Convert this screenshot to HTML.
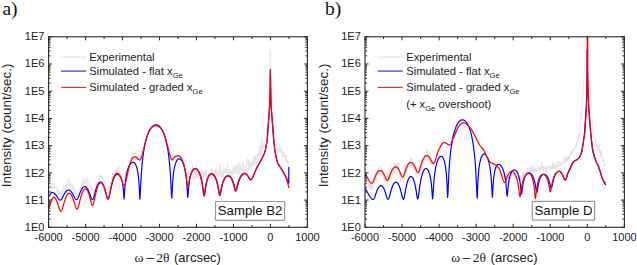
<!DOCTYPE html>
<html><head><meta charset="utf-8"><title>XRD</title>
<style>html,body{margin:0;padding:0;background:#fff;}svg{display:block;}</style>
</head><body>
<svg width="637" height="265" viewBox="0 0 637 265">
<defs><clipPath id="ca"><rect x="48.60" y="36.30" width="258.80" height="191.00"/></clipPath><clipPath id="cb"><rect x="365.00" y="36.30" width="259.40" height="191.00"/></clipPath></defs>
<rect width="637" height="265" fill="#fff"/>
<g clip-path="url(#ca)" fill="none" stroke-linejoin="round" stroke-linecap="round">
<path d="M48.60 193.93L48.83 193.96L49.05 189.91L49.27 191.35L49.50 191.35L49.73 190.99L49.95 190.52L50.18 190.14L50.40 190.44L50.62 191.69L50.85 185.98L51.08 188.23L51.30 188.55L51.52 188.79L51.75 187.28L51.98 188.17L52.20 182.71L52.42 188.04L52.65 186.94L52.88 186.64L53.10 188.23L53.33 188.08L53.55 188.51L53.77 186.41L54.00 186.34L54.23 188.90L54.45 182.82L54.68 187.05L54.90 186.41L55.13 187.80L55.35 186.80L55.58 186.34L55.81 188.14L56.03 186.24L56.26 188.70L56.48 188.60L56.71 187.55L56.94 188.27L57.16 191.97L57.39 189.45L57.61 190.28L57.84 192.22L58.06 189.64L58.29 191.45L58.52 194.13L58.74 191.96L58.97 192.05L59.19 189.82L59.42 192.39L59.65 193.36L59.87 193.94L60.10 195.29L60.32 192.71L60.55 195.43L60.77 193.63L61.00 194.09L61.22 191.40L61.44 192.38L61.67 194.22L61.89 192.52L62.11 189.81L62.33 193.20L62.56 194.37L62.78 191.76L63.00 191.13L63.22 191.47L63.44 189.94L63.67 188.49L63.89 185.29L64.11 190.36L64.33 189.97L64.56 189.44L64.78 190.02L65.00 190.05L65.22 186.92L65.44 185.65L65.67 187.49L65.89 184.87L66.11 184.70L66.33 187.13L66.56 186.80L66.78 185.81L67.00 184.07L67.22 187.65L67.44 184.61L67.67 178.80L67.89 187.04L68.11 184.87L68.33 185.55L68.56 186.71L68.78 182.55L69.00 183.92L69.22 183.28L69.44 179.13L69.67 183.61L69.89 185.89L70.11 184.54L70.33 184.27L70.56 187.21L70.78 184.57L71.00 183.68L71.22 182.67L71.44 187.15L71.67 184.19L71.89 184.25L72.11 188.73L72.33 187.24L72.56 189.47L72.78 186.44L73.00 188.74L73.22 185.16L73.44 186.24L73.67 186.52L73.89 189.08L74.11 190.38L74.33 187.37L74.56 190.78L74.78 189.43L75.00 192.25L75.22 192.14L75.44 193.36L75.67 191.41L75.89 192.52L76.11 190.56L76.33 193.10L76.56 192.62L76.78 192.32L77.00 193.35L77.22 192.94L77.44 192.17L77.67 195.94L77.89 191.88L78.11 191.53L78.33 190.45L78.56 192.75L78.78 190.95L79.00 190.42L79.22 190.65L79.44 190.37L79.67 189.00L79.89 190.47L80.11 187.84L80.33 187.44L80.56 188.88L80.78 187.55L81.00 186.58L81.22 184.24L81.44 183.25L81.67 184.08L81.89 185.36L82.11 184.70L82.33 182.52L82.56 181.18L82.78 179.43L83.00 182.30L83.22 182.88L83.44 181.13L83.67 184.16L83.89 182.41L84.11 178.37L84.33 182.35L84.56 183.37L84.78 180.71L85.00 181.65L85.22 180.16L85.44 184.11L85.67 182.40L85.89 181.48L86.11 183.74L86.33 179.91L86.56 182.36L86.78 183.31L87.00 177.14L87.22 181.35L87.44 180.84L87.67 182.36L87.89 182.17L88.11 180.98L88.33 179.70L88.56 185.31L88.78 185.56L89.00 185.97L89.22 183.90L89.44 184.13L89.67 184.28L89.89 186.88L90.11 187.21L90.33 186.68L90.56 188.45L90.78 190.16L91.00 190.07L91.22 187.09L91.44 186.69L91.67 189.84L91.89 191.30L92.11 189.70L92.33 189.14L92.56 192.57L92.78 192.95L93.00 188.49L93.22 191.47L93.44 191.88L93.67 190.71L93.89 189.95L94.11 189.10L94.33 191.26L94.56 193.47L94.78 190.00L95.00 188.07L95.22 191.21L95.44 187.84L95.67 183.97L95.89 183.04L96.11 186.82L96.33 185.61L96.56 183.00L96.78 186.25L97.00 182.43L97.22 182.23L97.44 182.75L97.67 181.84L97.89 181.24L98.11 183.01L98.33 180.78L98.56 180.44L98.78 180.94L99.00 178.45L99.22 178.55L99.44 180.32L99.67 174.87L99.89 180.03L100.11 176.26L100.33 178.01L100.56 175.03L100.78 174.29L101.00 176.91L101.23 179.18L101.45 179.43L101.68 176.79L101.90 175.50L102.13 177.34L102.35 179.19L102.58 178.37L102.81 177.81L103.03 179.80L103.26 180.30L103.48 182.69L103.71 179.17L103.94 178.83L104.16 182.81L104.39 183.97L104.61 183.18L104.84 179.82L105.06 184.22L105.29 182.64L105.52 187.40L105.74 188.34L105.97 185.44L106.19 186.12L106.42 186.35L106.65 187.05L106.87 187.40L107.10 190.77L107.32 187.50L107.55 189.14L107.77 190.91L108.00 189.17L108.22 189.71L108.45 189.36L108.67 189.66L108.89 187.99L109.12 186.45L109.34 190.48L109.57 186.98L109.79 186.30L110.01 185.79L110.24 185.61L110.46 185.50L110.68 182.89L110.91 184.61L111.13 181.09L111.36 179.66L111.58 179.92L111.80 179.24L112.03 179.85L112.25 175.38L112.47 179.81L112.70 172.03L112.92 175.09L113.14 174.43L113.37 174.89L113.59 173.10L113.82 175.07L114.04 172.65L114.26 171.51L114.49 171.25L114.71 173.10L114.93 173.01L115.16 171.03L115.38 173.00L115.61 171.58L115.83 169.10L116.05 172.00L116.28 170.71L116.50 172.28L116.72 170.52L116.94 169.03L117.16 165.68L117.38 171.52L117.60 171.28L117.82 171.14L118.04 171.77L118.26 170.16L118.49 170.85L118.71 168.93L118.93 166.28L119.15 173.19L119.37 171.73L119.59 174.50L119.81 172.88L120.03 174.06L120.25 177.28L120.47 176.43L120.69 176.08L120.91 176.15L121.13 173.85L121.35 176.50L121.57 174.53L121.79 178.05L122.01 176.32L122.24 177.42L122.46 180.83L122.68 179.88L122.90 180.72L123.12 179.27L123.34 182.36L123.56 182.16L123.78 181.49L124.00 182.15L124.22 179.88L124.44 180.72L124.67 178.20L124.89 181.13L125.11 179.76L125.33 175.77L125.56 178.47L125.78 172.19L126.00 180.74L126.22 177.89L126.44 177.16L126.67 173.16L126.89 173.09L127.11 171.71L127.33 174.25L127.56 172.47L127.78 168.18L128.00 168.87L128.22 169.46L128.44 166.64L128.67 169.35L128.89 167.96L129.11 166.69L129.33 163.96L129.56 160.89L129.78 165.14L130.00 160.40L130.22 157.59L130.44 162.00L130.67 162.66L130.89 160.12L131.11 158.37L131.33 159.57L131.56 155.90L131.78 157.25L132.00 151.79L132.22 157.64L132.44 159.05L132.67 154.03L132.89 158.60L133.11 153.83L133.33 153.26L133.56 154.80L133.78 154.30L134.00 152.62L134.22 154.07L134.45 153.87L134.67 154.25L134.89 155.05L135.12 152.34L135.34 154.25L135.56 152.46L135.78 155.36L136.01 156.94L136.23 156.95L136.45 156.93L136.68 156.90L136.90 155.61L137.12 159.69L137.35 156.95L137.57 156.26L137.79 159.74L138.02 155.44L138.24 154.51L138.46 157.13L138.68 160.33L138.91 153.45L139.13 158.38L139.35 155.91L139.58 155.95L139.80 160.27L140.04 161.26L140.27 159.00L140.51 155.47L140.75 159.91L140.98 159.23L141.22 156.58L141.45 156.07L141.69 155.70L141.93 155.59L142.16 153.98L142.40 153.91L142.64 153.52L142.87 151.69L143.11 151.34L143.35 151.14L143.58 149.66L143.82 148.09L144.05 148.06L144.29 147.19L144.53 145.24L144.76 144.18L145.00 143.92L145.23 142.70L145.45 141.65L145.68 141.26L145.91 140.52L146.14 139.94L146.36 138.59L146.59 138.11L146.82 137.74L147.05 136.18L147.27 136.17L147.50 134.50L147.74 134.29L147.97 133.72L148.21 133.26L148.45 132.96L148.68 131.97L148.92 131.83L149.15 131.16L149.39 130.17L149.63 129.94L149.86 129.92L150.10 129.53L150.32 129.21L150.54 128.95L150.76 128.70L150.98 127.73L151.20 128.33L151.42 128.01L151.64 126.17L151.86 126.87L152.08 127.40L152.30 126.94L152.52 127.58L152.74 126.10L152.96 126.85L153.18 126.17L153.40 125.20L153.62 126.44L153.84 126.74L154.06 125.58L154.28 125.38L154.50 125.96L154.72 125.64L154.94 126.13L155.16 125.76L155.38 125.97L155.60 125.20L155.82 125.52L156.04 125.53L156.26 126.09L156.48 125.44L156.70 125.96L156.92 126.02L157.14 126.38L157.36 126.13L157.58 126.05L157.80 126.29L158.02 125.56L158.24 126.17L158.46 126.50L158.68 126.80L158.90 126.81L159.12 126.67L159.34 126.72L159.56 127.00L159.78 127.04L160.00 127.34L160.22 127.54L160.44 128.10L160.66 128.02L160.88 128.53L161.10 128.54L161.33 128.48L161.55 128.62L161.78 129.61L162.01 129.60L162.23 130.35L162.46 130.81L162.69 131.05L162.91 131.95L163.14 131.67L163.37 133.16L163.59 132.67L163.82 133.13L164.05 133.77L164.27 134.97L164.50 134.96L164.73 135.77L164.95 135.72L165.18 137.01L165.41 138.11L165.64 139.13L165.86 139.57L166.09 140.81L166.32 141.51L166.55 142.29L166.77 142.41L167.00 143.64L167.24 144.95L167.47 145.68L167.71 146.74L167.95 147.51L168.18 148.91L168.42 149.09L168.65 150.86L168.89 151.98L169.13 152.69L169.36 153.50L169.60 153.25L169.84 154.35L170.07 155.29L170.31 155.97L170.55 156.40L170.78 157.69L171.02 158.45L171.25 158.00L171.49 159.29L171.73 159.25L171.96 159.49L172.20 159.89L172.42 160.31L172.64 159.70L172.87 159.92L173.09 160.39L173.31 159.64L173.53 159.78L173.76 159.26L173.98 159.91L174.20 159.12L174.42 158.97L174.64 158.63L174.87 159.10L175.09 157.41L175.31 157.86L175.53 158.11L175.76 158.07L175.98 156.44L176.20 156.48L176.42 157.17L176.64 156.23L176.87 157.16L177.09 156.49L177.31 156.10L177.53 156.41L177.76 156.38L177.98 156.52L178.20 156.71L178.43 155.96L178.66 155.91L178.89 156.40L179.11 156.21L179.34 156.16L179.57 157.36L179.80 156.38L180.03 156.92L180.26 157.15L180.49 157.77L180.71 158.13L180.94 158.81L181.17 158.56L181.40 159.29L181.63 158.88L181.86 159.68L182.09 160.24L182.31 161.31L182.54 161.15L182.77 161.60L183.00 161.99L183.23 163.20L183.45 163.93L183.68 164.29L183.91 165.21L184.14 167.25L184.36 167.62L184.59 168.26L184.82 169.81L185.05 169.60L185.27 173.36L185.50 171.05L185.73 173.08L185.95 174.03L186.18 178.00L186.41 169.21L186.64 172.04L186.86 174.06L187.09 172.21L187.32 173.48L187.55 176.55L187.77 176.29L188.00 176.45L188.22 173.37L188.44 174.69L188.66 172.22L188.88 173.63L189.10 174.48L189.32 168.04L189.54 172.38L189.76 177.97L189.98 174.36L190.20 175.14L190.42 174.56L190.64 179.17L190.86 176.44L191.08 173.90L191.31 174.40L191.53 175.27L191.75 173.43L191.97 176.03L192.19 172.29L192.41 165.77L192.63 173.67L192.85 179.94L193.07 179.66L193.29 178.68L193.51 176.42L193.73 178.60L193.95 174.35L194.17 170.97L194.39 178.37L194.61 175.47L194.83 176.94L195.05 179.83L195.27 174.06L195.49 174.27L195.71 178.31L195.93 174.15L196.15 175.92L196.37 165.97L196.59 177.87L196.81 174.29L197.03 177.01L197.25 172.67L197.47 174.02L197.69 177.74L197.92 178.92L198.14 174.61L198.36 173.84L198.58 175.30L198.80 172.69L199.02 175.00L199.24 176.34L199.46 174.12L199.68 175.34L199.90 176.26L200.12 176.84L200.34 173.26L200.56 177.55L200.78 172.36L201.00 169.53L201.22 176.61L201.45 172.78L201.68 175.89L201.90 177.54L202.12 178.29L202.35 178.51L202.57 172.05L202.80 180.07L203.03 169.85L203.25 181.04L203.47 175.96L203.70 171.93L203.93 174.27L204.15 172.08L204.38 171.65L204.60 175.48L204.82 175.19L205.05 176.62L205.28 176.51L205.50 170.53L205.72 175.08L205.95 168.89L206.18 174.86L206.40 174.63L206.62 182.11L206.85 174.51L207.07 174.55L207.30 175.11L207.53 176.29L207.75 175.05L207.97 176.96L208.20 174.99L208.43 172.94L208.65 175.57L208.88 174.18L209.10 175.96L209.32 173.99L209.55 175.03L209.78 174.39L210.00 175.57L210.22 174.49L210.44 176.87L210.66 172.98L210.88 175.95L211.10 175.81L211.32 167.10L211.54 176.57L211.76 178.90L211.99 173.89L212.21 178.23L212.43 175.22L212.65 172.33L212.87 169.66L213.09 175.27L213.31 176.79L213.53 171.74L213.75 177.05L213.97 173.78L214.19 172.63L214.41 170.91L214.63 174.68L214.85 171.29L215.07 169.04L215.29 173.97L215.51 175.36L215.74 176.63L215.96 168.43L216.18 171.54L216.40 173.48L216.62 169.85L216.84 172.04L217.06 176.29L217.28 170.95L217.50 175.54L217.72 170.96L217.94 173.65L218.16 173.77L218.38 174.55L218.60 177.01L218.82 172.97L219.04 170.72L219.26 172.60L219.49 165.70L219.71 169.61L219.93 171.83L220.15 175.24L220.37 165.66L220.59 177.71L220.81 173.69L221.03 177.36L221.25 172.99L221.47 173.35L221.69 172.25L221.91 171.58L222.13 172.65L222.35 170.88L222.57 169.59L222.79 176.96L223.01 172.27L223.24 173.71L223.46 176.17L223.68 177.81L223.90 166.95L224.12 172.38L224.34 171.75L224.56 168.38L224.78 171.58L225.00 170.56L225.22 171.17L225.44 173.15L225.66 168.41L225.88 167.88L226.10 173.05L226.32 175.08L226.54 172.87L226.76 175.47L226.99 174.80L227.21 176.63L227.43 163.06L227.65 167.97L227.87 171.97L228.09 173.04L228.31 172.69L228.53 171.68L228.75 175.71L228.97 173.83L229.19 177.72L229.41 170.18L229.63 169.48L229.85 169.51L230.07 168.87L230.29 173.19L230.51 171.50L230.74 175.09L230.96 171.88L231.18 170.06L231.40 174.83L231.62 171.23L231.84 170.72L232.06 176.58L232.28 176.01L232.50 171.23L232.72 173.55L232.94 173.51L233.16 171.91L233.38 166.38L233.60 172.90L233.82 173.03L234.04 169.35L234.26 173.79L234.49 166.50L234.71 171.86L234.93 171.70L235.15 165.24L235.37 169.74L235.59 168.88L235.81 172.88L236.03 170.25L236.25 170.75L236.47 165.79L236.69 168.39L236.91 166.95L237.13 165.58L237.35 170.68L237.57 174.00L237.79 169.20L238.01 172.69L238.24 174.41L238.46 163.91L238.68 162.56L238.90 168.23L239.12 165.67L239.34 174.96L239.56 172.49L239.78 166.04L240.00 168.78L240.22 166.52L240.44 164.27L240.67 164.86L240.89 170.54L241.11 167.23L241.33 174.95L241.56 167.76L241.78 170.53L242.00 170.69L242.22 169.04L242.44 170.87L242.67 163.11L242.89 167.10L243.11 170.77L243.33 165.83L243.56 162.85L243.78 170.32L244.00 169.23L244.22 169.28L244.44 170.20L244.67 168.52L244.89 168.42L245.11 166.76L245.33 165.61L245.56 170.23L245.78 167.77L246.00 167.13L246.22 167.90L246.44 167.16L246.67 167.50L246.89 167.49L247.11 158.60L247.33 162.91L247.56 163.74L247.78 162.05L248.00 159.83L248.22 161.73L248.44 164.02L248.67 170.35L248.89 159.31L249.11 166.04L249.33 168.05L249.56 166.11L249.78 162.79L250.00 167.97L250.23 161.82L250.45 162.23L250.68 162.00L250.91 166.24L251.14 161.89L251.36 165.67L251.59 163.92L251.82 167.72L252.05 166.29L252.27 163.80L252.50 166.84L252.73 160.28L252.95 165.62L253.18 162.36L253.41 157.21L253.64 164.56L253.86 157.64L254.09 162.56L254.32 164.51L254.55 162.83L254.77 155.66L255.00 161.75L255.23 161.32L255.45 155.36L255.68 159.87L255.91 158.32L256.14 166.93L256.36 157.78L256.59 160.49L256.82 157.77L257.05 155.97L257.27 155.84L257.50 153.88L257.73 157.63L257.95 159.83L258.18 155.21L258.41 156.04L258.64 151.23L258.86 152.86L259.09 151.41L259.32 155.69L259.55 145.29L259.77 155.98L260.00 154.98L260.23 144.68L260.47 154.33L260.70 149.88L260.93 152.73L261.17 153.14L261.40 154.20L261.63 138.85L261.87 148.56L262.10 150.82L262.33 145.59L262.57 144.52L262.80 148.83L263.03 148.53L263.27 148.64L263.50 145.88L263.73 143.25L263.96 147.08L264.19 143.94L264.42 143.45L264.65 142.66L264.88 142.13L265.12 141.21L265.35 140.21L265.58 139.20L265.81 137.91L266.04 136.25L266.27 134.88L266.50 132.81L266.73 130.54L266.96 128.69L267.19 126.38L267.42 122.59L267.65 120.13L267.88 116.55L268.11 112.83L268.34 109.14L268.57 104.76L268.80 100.20L269.07 92.18L269.35 80.74L269.62 70.27L269.90 59.90L270.15 52.67L270.40 49.34L270.65 53.17L270.90 60.21L271.15 66.55L271.40 73.58L271.65 81.37L271.90 87.88L272.15 94.46L272.40 100.11L272.64 104.76L272.88 109.40L273.12 114.63L273.36 119.10L273.60 123.13L273.84 126.31L274.08 130.39L274.32 133.91L274.56 136.93L274.80 137.88L275.02 139.42L275.24 139.71L275.46 141.56L275.68 142.52L275.90 143.20L276.12 143.81L276.34 144.87L276.57 145.61L276.79 146.10L277.01 146.14L277.23 148.03L277.45 148.70L277.67 147.36L277.89 148.60L278.11 150.54L278.33 146.76L278.55 146.90L278.77 149.19L278.99 150.28L279.21 143.13L279.43 152.00L279.66 151.70L279.88 148.62L280.10 148.22L280.32 148.91L280.54 153.38L280.76 147.43L280.98 147.03L281.20 149.60L281.42 148.35L281.65 152.91L281.87 153.01L282.09 150.52L282.32 155.78L282.54 156.93L282.76 149.51L282.98 154.22L283.21 153.36L283.43 156.46L283.65 154.93L283.88 156.60L284.10 157.01L284.32 151.97L284.55 157.44L284.77 155.85L284.99 155.13L285.22 156.35L285.44 154.81L285.66 155.63L285.88 161.43L286.11 155.51L286.33 158.05L286.55 154.69L286.78 157.09L287.00 162.84L287.23 162.49L287.45 160.85L287.68 164.42L287.90 162.08L288.12 163.19L288.35 161.84L288.57 162.30L288.80 161.92" stroke="#e2e2e2" stroke-width="0.7"/>
<path d="M48.60 196.80L48.86 196.44L49.12 196.03L49.38 195.60L49.65 195.16L49.91 194.71L50.17 194.26L50.43 193.84L50.69 193.45L50.95 193.10L51.22 192.81L51.48 192.59L51.74 192.45L52.00 192.40L52.25 192.41L52.50 192.44L52.75 192.50L53.01 192.58L53.26 192.68L53.51 192.80L53.76 192.94L54.01 193.11L54.26 193.30L54.52 193.50L54.77 193.73L55.02 193.98L55.27 194.25L55.52 194.54L55.77 194.85L56.02 195.17L56.28 195.51L56.53 195.87L56.78 196.23L57.03 196.61L57.28 196.98L57.53 197.37L57.78 197.74L58.04 198.12L58.29 198.47L58.54 198.81L58.79 199.12L59.04 199.40L59.29 199.64L59.55 199.84L59.80 199.98L60.05 200.07L60.30 200.10L60.56 200.06L60.81 199.94L61.07 199.74L61.32 199.47L61.58 199.13L61.84 198.75L62.09 198.32L62.35 197.85L62.61 197.36L62.86 196.86L63.12 196.34L63.38 195.83L63.63 195.32L63.89 194.81L64.14 194.33L64.40 193.86L64.66 193.41L64.91 192.98L65.17 192.58L65.42 192.21L65.68 191.86L65.94 191.54L66.19 191.25L66.45 190.99L66.71 190.76L66.96 190.56L67.22 190.39L67.47 190.25L67.73 190.14L67.99 190.06L68.24 190.02L68.50 190.00L68.75 190.01L69.00 190.06L69.25 190.13L69.50 190.22L69.75 190.35L70.00 190.51L70.25 190.69L70.50 190.90L70.75 191.14L71.00 191.40L71.25 191.69L71.50 192.01L71.75 192.36L72.00 192.73L72.25 193.12L72.50 193.54L72.75 193.98L73.00 194.44L73.25 194.91L73.50 195.40L73.75 195.89L74.00 196.39L74.25 196.88L74.50 197.36L74.75 197.81L75.00 198.24L75.25 198.62L75.50 198.96L75.75 199.23L76.00 199.43L76.25 199.56L76.50 199.60L76.75 199.55L77.00 199.39L77.25 199.13L77.51 198.78L77.76 198.34L78.01 197.84L78.26 197.29L78.51 196.69L78.76 196.06L79.02 195.42L79.27 194.77L79.52 194.11L79.77 193.46L80.02 192.83L80.27 192.22L80.52 191.62L80.78 191.05L81.03 190.52L81.28 190.01L81.53 189.53L81.78 189.08L82.03 188.67L82.28 188.30L82.54 187.96L82.79 187.65L83.04 187.38L83.29 187.15L83.54 186.95L83.79 186.79L84.05 186.66L84.30 186.57L84.55 186.52L84.80 186.50L85.05 186.52L85.31 186.58L85.56 186.68L85.81 186.81L86.07 186.99L86.32 187.21L86.57 187.46L86.83 187.76L87.08 188.10L87.33 188.47L87.59 188.89L87.84 189.35L88.09 189.84L88.35 190.38L88.60 190.96L88.85 191.57L89.11 192.21L89.36 192.89L89.61 193.59L89.87 194.31L90.12 195.04L90.37 195.77L90.63 196.49L90.88 197.18L91.13 197.81L91.39 198.38L91.64 198.85L91.89 199.20L92.15 199.42L92.40 199.50L92.65 199.41L92.90 199.15L93.15 198.73L93.40 198.16L93.65 197.48L93.90 196.70L94.15 195.86L94.40 194.97L94.65 194.05L94.90 193.13L95.15 192.21L95.40 191.30L95.65 190.42L95.90 189.58L96.15 188.77L96.40 188.00L96.65 187.27L96.90 186.59L97.15 185.95L97.40 185.37L97.65 184.82L97.90 184.33L98.15 183.89L98.40 183.49L98.65 183.14L98.90 182.84L99.15 182.58L99.40 182.37L99.65 182.21L99.90 182.09L100.15 182.02L100.40 182.00L100.65 182.02L100.90 182.09L101.15 182.20L101.40 182.35L101.65 182.54L101.90 182.79L102.15 183.07L102.40 183.41L102.65 183.79L102.90 184.22L103.15 184.69L103.40 185.22L103.65 185.80L103.90 186.43L104.15 187.11L104.40 187.85L104.65 188.64L104.90 189.48L105.15 190.37L105.40 191.31L105.65 192.28L105.90 193.28L106.15 194.29L106.40 195.30L106.65 196.26L106.90 197.14L107.15 197.90L107.40 198.50L107.65 198.87L107.90 199.00L108.15 198.88L108.41 198.51L108.66 197.93L108.92 197.16L109.17 196.24L109.42 195.20L109.68 194.08L109.93 192.91L110.19 191.72L110.44 190.53L110.69 189.35L110.95 188.20L111.20 187.08L111.46 186.00L111.71 184.97L111.96 183.98L112.22 183.04L112.47 182.15L112.73 181.32L112.98 180.53L113.24 179.80L113.49 179.11L113.74 178.48L114.00 177.89L114.25 177.35L114.51 176.85L114.76 176.40L115.01 176.00L115.27 175.64L115.52 175.32L115.78 175.05L116.03 174.82L116.28 174.63L116.54 174.49L116.79 174.38L117.05 174.32L117.30 174.30L117.55 174.32L117.80 174.36L118.06 174.44L118.31 174.54L118.56 174.68L118.81 174.85L119.06 175.06L119.31 175.30L119.57 175.57L119.82 175.89L120.07 176.25L120.32 176.66L120.57 177.12L120.83 177.63L121.08 178.21L121.33 178.86L121.58 179.59L121.83 180.42L122.09 181.36L122.34 182.45L122.59 183.72L122.84 185.23L123.09 187.06L123.34 189.35L123.60 192.33L123.85 196.17L124.10 198.90L124.36 196.32L124.61 191.85L124.87 187.90L125.12 184.69L125.38 182.06L125.63 179.85L125.89 177.96L126.14 176.32L126.40 174.87L126.66 173.59L126.91 172.44L127.17 171.40L127.42 170.46L127.68 169.61L127.93 168.83L128.19 168.12L128.44 167.46L128.70 166.86L128.96 166.32L129.21 165.81L129.47 165.35L129.72 164.93L129.98 164.55L130.23 164.20L130.49 163.88L130.74 163.60L131.00 163.34L131.26 163.12L131.51 162.93L131.77 162.76L132.02 162.62L132.28 162.50L132.53 162.41L132.79 162.35L133.04 162.31L133.30 162.30L133.55 162.32L133.80 162.40L134.05 162.52L134.30 162.69L134.55 162.91L134.80 163.19L135.05 163.52L135.30 163.90L135.55 164.35L135.80 164.87L136.05 165.45L136.30 166.12L136.55 166.86L136.80 167.71L137.05 168.66L137.30 169.74L137.55 170.96L137.80 172.36L138.05 173.97L138.30 175.85L138.55 178.09L138.80 180.82L139.05 184.26L139.30 188.75L139.55 194.61L139.80 198.90L140.05 197.02L140.31 192.58L140.56 187.42L140.81 182.48L141.07 178.02L141.32 174.04L141.57 170.51L141.83 167.35L142.08 164.50L142.33 161.92L142.58 159.57L142.84 157.41L143.09 155.42L143.34 153.57L143.60 151.86L143.85 150.26L144.10 148.76L144.36 147.35L144.61 146.03L144.86 144.79L145.12 143.61L145.37 142.50L145.62 141.44L145.88 140.45L146.13 139.50L146.38 138.60L146.63 137.74L146.89 136.93L147.14 136.15L147.39 135.41L147.65 134.71L147.90 134.04L148.15 133.40L148.41 132.80L148.66 132.22L148.91 131.67L149.17 131.15L149.42 130.65L149.67 130.18L149.93 129.73L150.18 129.30L150.43 128.90L150.68 128.52L150.94 128.15L151.19 127.82L151.44 127.50L151.70 127.20L151.95 126.91L152.20 126.65L152.46 126.41L152.71 126.18L152.96 125.98L153.22 125.79L153.47 125.61L153.72 125.46L153.97 125.32L154.23 125.20L154.48 125.09L154.73 125.00L154.99 124.93L155.24 124.87L155.49 124.83L155.75 124.81L156.00 124.80L156.25 124.81L156.50 124.83L156.75 124.87L157.00 124.93L157.25 125.01L157.50 125.10L157.76 125.20L158.01 125.33L158.26 125.47L158.51 125.63L158.76 125.81L159.01 126.00L159.26 126.21L159.51 126.44L159.76 126.69L160.01 126.96L160.26 127.25L160.51 127.55L160.77 127.88L161.02 128.23L161.27 128.60L161.52 128.99L161.77 129.40L162.02 129.84L162.27 130.30L162.52 130.79L162.77 131.30L163.02 131.83L163.27 132.40L163.52 132.99L163.77 133.62L164.03 134.27L164.28 134.96L164.53 135.69L164.78 136.45L165.03 137.25L165.28 138.09L165.53 138.98L165.78 139.91L166.03 140.90L166.28 141.94L166.53 143.03L166.78 144.19L167.03 145.42L167.29 146.73L167.54 148.12L167.79 149.60L168.04 151.18L168.29 152.87L168.54 154.70L168.79 156.67L169.04 158.81L169.29 161.14L169.54 163.69L169.79 166.51L170.04 169.65L170.30 173.16L170.55 177.11L170.80 181.56L171.05 186.51L171.30 191.69L171.55 196.18L171.80 198.10L172.05 194.20L172.30 188.40L172.56 183.76L172.81 180.15L173.06 177.25L173.31 174.85L173.56 172.83L173.81 171.08L174.07 169.56L174.32 168.22L174.57 167.04L174.82 165.98L175.07 165.03L175.32 164.18L175.58 163.42L175.83 162.73L176.08 162.12L176.33 161.57L176.58 161.08L176.83 160.65L177.09 160.27L177.34 159.94L177.59 159.66L177.84 159.42L178.09 159.23L178.34 159.09L178.60 158.98L178.85 158.92L179.10 158.90L179.36 158.92L179.61 158.96L179.87 159.04L180.12 159.16L180.38 159.30L180.64 159.48L180.89 159.70L181.15 159.94L181.40 160.23L181.66 160.55L181.91 160.92L182.17 161.32L182.43 161.77L182.68 162.27L182.94 162.81L183.19 163.41L183.45 164.07L183.71 164.78L183.96 165.57L184.22 166.44L184.47 167.38L184.73 168.43L184.99 169.59L185.24 170.87L185.50 172.30L185.75 173.91L186.01 175.74L186.26 177.85L186.52 180.29L186.78 183.18L187.03 186.65L187.29 190.76L187.54 195.11L187.80 197.40L188.05 195.29L188.30 191.59L188.55 188.29L188.80 185.61L189.05 183.40L189.30 181.55L189.55 179.98L189.80 178.62L190.05 177.42L190.30 176.37L190.55 175.43L190.80 174.59L191.05 173.84L191.30 173.16L191.55 172.55L191.80 172.00L192.05 171.50L192.30 171.06L192.55 170.66L192.80 170.30L193.05 169.98L193.30 169.71L193.55 169.47L193.80 169.26L194.05 169.09L194.30 168.95L194.55 168.84L194.80 168.76L195.05 168.72L195.30 168.70L195.55 168.71L195.80 168.76L196.05 168.83L196.30 168.93L196.55 169.06L196.80 169.22L197.05 169.40L197.30 169.62L197.55 169.88L197.80 170.16L198.05 170.48L198.30 170.83L198.55 171.22L198.80 171.65L199.05 172.12L199.30 172.63L199.55 173.19L199.80 173.79L200.05 174.45L200.30 175.16L200.55 175.94L200.80 176.78L201.05 177.69L201.30 178.68L201.55 179.76L201.80 180.94L202.05 182.22L202.30 183.62L202.55 185.15L202.80 186.81L203.05 188.59L203.30 190.47L203.55 192.35L203.80 194.07L204.05 195.33L204.30 195.80L204.56 195.22L204.81 193.75L205.07 191.90L205.32 190.00L205.58 188.21L205.83 186.58L206.09 185.12L206.34 183.80L206.60 182.62L206.85 181.56L207.11 180.61L207.36 179.74L207.62 178.96L207.87 178.26L208.13 177.62L208.38 177.05L208.64 176.53L208.89 176.07L209.15 175.66L209.40 175.29L209.66 174.97L209.91 174.69L210.17 174.45L210.42 174.25L210.68 174.09L210.93 173.96L211.19 173.87L211.44 173.82L211.70 173.80L211.96 173.82L212.21 173.86L212.47 173.94L212.72 174.05L212.98 174.19L213.24 174.36L213.49 174.56L213.75 174.80L214.01 175.08L214.26 175.39L214.52 175.73L214.78 176.12L215.03 176.55L215.29 177.03L215.54 177.55L215.80 178.12L216.06 178.75L216.31 179.44L216.57 180.19L216.82 181.01L217.08 181.91L217.34 182.89L217.59 183.97L217.85 185.14L218.11 186.43L218.36 187.82L218.62 189.32L218.88 190.89L219.13 192.46L219.39 193.88L219.64 194.91L219.90 195.30L220.15 194.97L220.41 194.08L220.66 192.85L220.92 191.47L221.17 190.09L221.43 188.76L221.68 187.51L221.94 186.36L222.19 185.30L222.45 184.33L222.70 183.44L222.95 182.63L223.21 181.88L223.46 181.20L223.72 180.57L223.97 179.99L224.23 179.46L224.48 178.98L224.74 178.54L224.99 178.14L225.25 177.77L225.50 177.45L225.75 177.15L226.01 176.89L226.26 176.65L226.52 176.45L226.77 176.28L227.03 176.13L227.28 176.01L227.54 175.92L227.79 175.85L228.05 175.81L228.30 175.80L228.55 175.81L228.80 175.86L229.05 175.93L229.30 176.03L229.55 176.16L229.80 176.32L230.05 176.51L230.30 176.74L230.55 176.99L230.80 177.28L231.05 177.61L231.30 177.97L231.55 178.38L231.80 178.82L232.05 179.31L232.30 179.85L232.55 180.43L232.80 181.07L233.05 181.77L233.30 182.53L233.55 183.35L233.80 184.24L234.05 185.19L234.30 186.20L234.55 187.26L234.80 188.32L235.05 189.33L235.30 190.19L235.55 190.79L235.80 191.00L236.05 190.83L236.31 190.34L236.56 189.61L236.81 188.71L237.06 187.73L237.32 186.72L237.57 185.71L237.82 184.73L238.08 183.80L238.33 182.91L238.58 182.08L238.83 181.30L239.09 180.57L239.34 179.89L239.59 179.26L239.84 178.67L240.10 178.13L240.35 177.62L240.60 177.15L240.86 176.71L241.11 176.31L241.36 175.94L241.61 175.61L241.87 175.30L242.12 175.02L242.37 174.77L242.62 174.54L242.88 174.34L243.13 174.16L243.38 174.01L243.64 173.89L243.89 173.78L244.14 173.70L244.39 173.65L244.65 173.61L244.90 173.60L245.15 173.62L245.41 173.67L245.66 173.75L245.92 173.87L246.17 174.02L246.43 174.20L246.68 174.42L246.94 174.68L247.19 174.97L247.45 175.29L247.70 175.65L247.95 176.05L248.21 176.47L248.46 176.92L248.72 177.40L248.97 177.88L249.23 178.36L249.48 178.81L249.74 179.21L249.99 179.52L250.25 179.73L250.50 179.80L250.75 179.76L251.00 179.65L251.25 179.47L251.50 179.22L251.75 178.92L252.00 178.56L252.25 178.15L252.50 177.70L252.75 177.21L253.00 176.69L253.25 176.13L253.50 175.55L253.75 174.96L254.00 174.34L254.25 173.72L254.50 173.09L254.75 172.47L255.00 171.85L255.25 171.23L255.50 170.64L255.75 170.06L256.00 169.51L256.25 168.99L256.50 168.50L256.75 168.03L257.00 167.57L257.25 167.12L257.50 166.66L257.75 166.21L258.00 165.76L258.25 165.31L258.50 164.86L258.75 164.41L259.00 163.96L259.25 163.50L259.50 163.05L259.75 162.59L260.00 162.12L260.25 161.65L260.50 161.18L260.75 160.69L261.00 160.20L261.25 159.71L261.50 159.20L261.75 158.69L262.01 158.20L262.26 157.71L262.51 157.23L262.77 156.74L263.02 156.25L263.27 155.74L263.53 155.21L263.78 154.66L264.03 154.08L264.29 153.46L264.54 152.79L264.79 152.08L265.05 151.32L265.30 150.50L267.20 140.00L268.30 125.00L269.40 110.00L269.90 100.00L270.20 85.00L270.40 69.60L270.60 85.00L270.90 100.00L271.40 110.00L272.60 125.00L273.70 140.00L274.80 150.00L275.05 151.47L275.30 152.87L275.55 154.21L275.80 155.47L276.05 156.67L276.30 157.80L276.55 158.87L276.80 159.88L277.05 160.82L277.30 161.70L277.57 162.55L277.85 163.25L278.12 163.82L278.40 164.31L278.68 164.74L278.95 165.15L279.23 165.56L279.50 166.00L279.77 166.45L280.03 166.88L280.30 167.29L280.57 167.70L280.83 168.10L281.10 168.49L281.37 168.89L281.63 169.28L281.90 169.69L282.17 170.11L282.43 170.55L282.70 171.00L282.96 171.46L283.22 171.93L283.48 172.42L283.73 172.92L283.99 173.42L284.25 173.93L284.51 174.45L284.77 174.96L285.02 175.48L285.28 175.99L285.54 176.50L285.80 177.00L286.06 177.50L286.32 177.99L286.59 178.47L286.85 178.95L287.11 179.44L287.38 179.94L287.64 180.46L287.90 181.00L288.20 181.71L288.50 182.50L288.80 183.30L288.8 167.3" stroke="#0000ff" stroke-width="1.2"/>
<path d="M48.60 208.00L48.86 207.44L49.12 206.83L49.38 206.19L49.64 205.52L49.90 204.82L50.16 204.12L50.42 203.40L50.68 202.69L50.94 201.99L51.20 201.31L51.46 200.66L51.72 200.04L51.98 199.46L52.24 198.94L52.50 198.47L52.76 198.07L53.02 197.75L53.28 197.50L53.54 197.35L53.80 197.30L54.05 197.33L54.30 197.41L54.55 197.54L54.80 197.73L55.05 197.97L55.30 198.26L55.55 198.61L55.80 199.01L56.05 199.46L56.30 199.96L56.55 200.52L56.80 201.12L57.05 201.77L57.30 202.47L57.55 203.20L57.80 203.97L58.05 204.77L58.30 205.58L58.55 206.41L58.80 207.23L59.05 208.03L59.30 208.79L59.55 209.48L59.80 210.10L60.05 210.60L60.30 210.98L60.55 211.22L60.80 211.30L61.05 211.23L61.30 211.01L61.55 210.65L61.81 210.17L62.06 209.57L62.31 208.89L62.56 208.12L62.81 207.30L63.06 206.44L63.32 205.56L63.57 204.66L63.82 203.76L64.07 202.87L64.32 202.00L64.57 201.15L64.82 200.34L65.08 199.56L65.33 198.82L65.58 198.12L65.83 197.46L66.08 196.85L66.33 196.29L66.58 195.77L66.84 195.30L67.09 194.88L67.34 194.51L67.59 194.19L67.84 193.92L68.09 193.70L68.35 193.52L68.60 193.40L68.85 193.32L69.10 193.30L69.35 193.32L69.61 193.39L69.86 193.51L70.12 193.67L70.37 193.88L70.63 194.13L70.88 194.44L71.14 194.79L71.39 195.18L71.65 195.62L71.90 196.11L72.16 196.65L72.41 197.23L72.67 197.85L72.92 198.52L73.18 199.23L73.43 199.98L73.69 200.76L73.94 201.58L74.20 202.41L74.45 203.26L74.71 204.11L74.96 204.96L75.22 205.78L75.47 206.55L75.73 207.26L75.98 207.88L76.24 208.40L76.49 208.78L76.75 209.02L77.00 209.10L77.25 209.01L77.51 208.74L77.76 208.30L78.02 207.71L78.27 206.99L78.53 206.17L78.78 205.26L79.04 204.29L79.29 203.29L79.55 202.26L79.80 201.23L80.05 200.21L80.31 199.21L80.56 198.23L80.82 197.29L81.07 196.39L81.33 195.54L81.58 194.73L81.84 193.97L82.09 193.25L82.35 192.59L82.60 191.99L82.85 191.43L83.11 190.93L83.36 190.48L83.62 190.09L83.87 189.75L84.13 189.46L84.38 189.22L84.64 189.04L84.89 188.90L85.15 188.83L85.40 188.80L85.65 188.83L85.91 188.91L86.16 189.05L86.41 189.24L86.67 189.49L86.92 189.80L87.18 190.16L87.43 190.58L87.68 191.06L87.94 191.60L88.19 192.19L88.44 192.85L88.70 193.56L88.95 194.33L89.20 195.16L89.46 196.03L89.71 196.96L89.96 197.93L90.22 198.93L90.47 199.95L90.72 200.97L90.98 201.97L91.23 202.91L91.49 203.76L91.74 204.48L91.99 205.03L92.25 205.38L92.50 205.50L92.75 205.38L93.01 205.01L93.26 204.43L93.51 203.65L93.77 202.72L94.02 201.67L94.27 200.53L94.53 199.35L94.78 198.13L95.03 196.92L95.28 195.72L95.54 194.55L95.79 193.42L96.04 192.33L96.30 191.29L96.55 190.32L96.80 189.40L97.06 188.53L97.31 187.74L97.56 187.00L97.82 186.32L98.07 185.70L98.32 185.15L98.57 184.65L98.83 184.21L99.08 183.84L99.33 183.52L99.59 183.26L99.84 183.06L100.09 182.91L100.35 182.83L100.60 182.80L100.85 182.82L101.10 182.88L101.35 182.99L101.60 183.14L101.85 183.33L102.10 183.56L102.35 183.84L102.60 184.16L102.85 184.52L103.10 184.94L103.35 185.40L103.60 185.91L103.85 186.47L104.10 187.07L104.35 187.73L104.60 188.44L104.85 189.20L105.10 190.02L105.35 190.88L105.60 191.78L105.85 192.72L106.10 193.68L106.35 194.66L106.60 195.63L106.85 196.56L107.10 197.41L107.35 198.14L107.60 198.71L107.85 199.08L108.10 199.20L108.35 199.06L108.61 198.63L108.86 197.95L109.12 197.06L109.37 196.00L109.63 194.82L109.88 193.56L110.13 192.25L110.39 190.93L110.64 189.61L110.90 188.32L111.15 187.06L111.41 185.85L111.66 184.70L111.91 183.59L112.17 182.55L112.42 181.56L112.68 180.64L112.93 179.77L113.19 178.96L113.44 178.21L113.69 177.51L113.95 176.88L114.20 176.29L114.46 175.77L114.71 175.29L114.97 174.87L115.22 174.50L115.47 174.18L115.73 173.91L115.98 173.69L116.24 173.52L116.49 173.40L116.75 173.32L117.00 173.30L117.25 173.32L117.51 173.38L117.76 173.48L118.01 173.62L118.27 173.81L118.52 174.03L118.78 174.29L119.03 174.60L119.28 174.95L119.54 175.34L119.79 175.78L120.04 176.26L120.30 176.78L120.55 177.34L120.80 177.94L121.06 178.59L121.31 179.26L121.56 179.97L121.82 180.70L122.07 181.45L122.32 182.19L122.58 182.92L122.83 183.61L123.09 184.23L123.34 184.76L123.59 185.16L123.85 185.41L124.10 185.50L124.35 185.40L124.61 185.12L124.86 184.66L125.11 184.04L125.37 183.27L125.62 182.38L125.88 181.38L126.13 180.31L126.38 179.18L126.64 178.02L126.89 176.82L127.14 175.62L127.40 174.43L127.65 173.24L127.90 172.08L128.16 170.95L128.41 169.85L128.67 168.78L128.92 167.76L129.17 166.78L129.43 165.84L129.68 164.95L129.93 164.10L130.19 163.30L130.44 162.55L130.70 161.85L130.95 161.19L131.20 160.58L131.46 160.01L131.71 159.50L131.96 159.03L132.22 158.60L132.47 158.22L132.72 157.89L132.98 157.60L133.23 157.35L133.49 157.15L133.74 157.00L133.99 156.89L134.25 156.82L134.50 156.80L134.75 156.81L135.00 156.85L135.26 156.92L135.51 157.01L135.76 157.12L136.01 157.26L136.27 157.42L136.52 157.60L136.77 157.80L137.02 158.01L137.28 158.24L137.53 158.48L137.78 158.73L138.03 158.97L138.29 159.20L138.54 159.42L138.79 159.62L139.04 159.78L139.30 159.90L139.55 159.97L139.80 160.00L140.06 159.90L140.32 159.64L140.58 159.21L140.84 158.67L141.10 158.01L141.36 157.28L141.62 156.49L141.88 155.66L142.14 154.82L142.40 154.00L142.66 153.14L142.92 152.21L143.18 151.21L143.44 150.16L143.70 149.08L143.96 147.99L144.22 146.89L144.48 145.82L144.74 144.78L145.00 143.80L145.25 142.88L145.50 141.97L145.75 141.06L146.00 140.17L146.25 139.29L146.50 138.44L146.75 137.60L147.00 136.80L147.25 136.03L147.50 135.30L147.76 134.56L148.02 133.83L148.28 133.11L148.54 132.42L148.80 131.77L149.06 131.15L149.32 130.59L149.58 130.09L149.84 129.65L150.10 129.30L150.35 129.00L150.60 128.72L150.85 128.44L151.10 128.18L151.35 127.92L151.60 127.67L151.85 127.44L152.10 127.22L152.35 127.01L152.60 126.81L152.85 126.63L153.10 126.46L153.35 126.30L153.60 126.16L153.85 126.03L154.10 125.92L154.35 125.82L154.60 125.74L154.85 125.68L155.10 125.64L155.35 125.61L155.60 125.60L155.85 125.61L156.10 125.62L156.35 125.65L156.60 125.69L156.85 125.74L157.10 125.81L157.35 125.88L157.60 125.97L157.85 126.07L158.10 126.18L158.35 126.30L158.60 126.44L158.85 126.58L159.10 126.75L159.35 126.92L159.60 127.11L159.85 127.31L160.10 127.52L160.35 127.74L160.60 127.98L160.85 128.23L161.10 128.50L161.36 128.81L161.62 129.16L161.88 129.56L162.15 130.00L162.41 130.48L162.67 130.99L162.93 131.54L163.19 132.11L163.45 132.71L163.72 133.33L163.98 133.97L164.24 134.63L164.50 135.30L164.75 135.98L165.00 136.72L165.25 137.51L165.50 138.35L165.75 139.21L166.00 140.11L166.25 141.02L166.50 141.95L166.75 142.88L167.00 143.80L167.26 144.79L167.52 145.82L167.78 146.90L168.04 147.99L168.30 149.09L168.56 150.17L168.82 151.21L169.08 152.21L169.34 153.15L169.60 154.00L169.86 154.82L170.12 155.64L170.38 156.46L170.64 157.24L170.90 157.96L171.16 158.60L171.42 159.13L171.68 159.54L171.94 159.81L172.20 159.90L172.45 159.79L172.70 159.50L172.95 159.12L173.20 158.73L173.45 158.35L173.70 158.01L173.95 157.70L174.20 157.43L174.45 157.18L174.70 156.96L174.95 156.77L175.20 156.59L175.45 156.44L175.70 156.30L175.95 156.18L176.20 156.08L176.45 155.98L176.70 155.91L176.95 155.84L177.20 155.79L177.45 155.75L177.70 155.72L177.95 155.71L178.20 155.70L178.45 155.72L178.70 155.76L178.95 155.84L179.21 155.95L179.46 156.09L179.71 156.27L179.96 156.47L180.21 156.72L180.46 156.99L180.71 157.30L180.96 157.65L181.22 158.03L181.47 158.45L181.72 158.91L181.97 159.41L182.22 159.96L182.47 160.55L182.72 161.19L182.97 161.88L183.23 162.62L183.48 163.42L183.73 164.27L183.98 165.19L184.23 166.18L184.48 167.24L184.73 168.37L184.98 169.59L185.24 170.90L185.49 172.29L185.74 173.78L185.99 175.37L186.24 177.04L186.49 178.78L186.74 180.55L186.99 182.30L187.25 183.92L187.50 185.27L187.75 186.18L188.00 186.50L188.25 186.14L188.50 185.18L188.75 183.88L189.00 182.45L189.25 181.04L189.50 179.70L189.75 178.45L190.00 177.32L190.25 176.29L190.50 175.35L190.75 174.50L191.00 173.73L191.25 173.03L191.50 172.40L191.75 171.83L192.00 171.32L192.25 170.86L192.50 170.45L192.75 170.08L193.00 169.76L193.25 169.48L193.50 169.24L193.75 169.05L194.00 168.88L194.25 168.76L194.50 168.67L194.75 168.62L195.00 168.60L195.25 168.61L195.50 168.66L195.75 168.73L196.00 168.83L196.25 168.96L196.50 169.12L196.75 169.31L197.00 169.53L197.25 169.78L197.50 170.06L197.75 170.38L198.00 170.74L198.25 171.13L198.50 171.56L198.75 172.03L199.00 172.54L199.25 173.10L199.50 173.71L199.75 174.37L200.00 175.09L200.25 175.86L200.50 176.71L200.75 177.62L201.00 178.62L201.25 179.70L201.50 180.88L201.75 182.17L202.00 183.58L202.25 185.11L202.50 186.77L202.75 188.56L203.00 190.45L203.25 192.34L203.50 194.06L203.75 195.33L204.00 195.80L204.25 195.23L204.50 193.77L204.76 191.93L205.01 190.05L205.26 188.28L205.51 186.67L205.76 185.22L206.01 183.91L206.27 182.74L206.52 181.69L206.77 180.74L207.02 179.89L207.27 179.12L207.52 178.42L207.78 177.79L208.03 177.22L208.28 176.71L208.53 176.25L208.78 175.84L209.03 175.48L209.29 175.16L209.54 174.88L209.79 174.64L210.04 174.44L210.29 174.28L210.54 174.16L210.80 174.07L211.05 174.02L211.30 174.00L211.55 174.01L211.80 174.06L212.05 174.13L212.31 174.23L212.56 174.36L212.81 174.52L213.06 174.71L213.31 174.93L213.56 175.19L213.82 175.47L214.07 175.80L214.32 176.16L214.57 176.56L214.82 176.99L215.07 177.48L215.32 178.00L215.58 178.58L215.83 179.21L216.08 179.89L216.33 180.64L216.58 181.46L216.83 182.35L217.08 183.32L217.34 184.38L217.59 185.54L217.84 186.79L218.09 188.15L218.34 189.61L218.59 191.12L218.85 192.62L219.10 193.97L219.35 194.94L219.60 195.30L219.85 194.97L220.10 194.09L220.35 192.87L220.61 191.51L220.86 190.14L221.11 188.82L221.36 187.59L221.61 186.45L221.86 185.41L222.12 184.45L222.37 183.57L222.62 182.76L222.87 182.02L223.12 181.34L223.37 180.72L223.62 180.15L223.88 179.63L224.13 179.15L224.38 178.71L224.63 178.32L224.88 177.95L225.13 177.63L225.38 177.34L225.64 177.07L225.89 176.84L226.14 176.64L226.39 176.47L226.64 176.33L226.89 176.21L227.15 176.12L227.40 176.05L227.65 176.01L227.90 176.00L228.15 176.01L228.41 176.06L228.66 176.13L228.91 176.23L229.17 176.36L229.42 176.51L229.67 176.70L229.93 176.92L230.18 177.18L230.43 177.46L230.69 177.79L230.94 178.14L231.19 178.54L231.45 178.98L231.70 179.46L231.95 179.99L232.21 180.57L232.46 181.20L232.71 181.89L232.97 182.64L233.22 183.45L233.47 184.33L233.73 185.27L233.98 186.27L234.23 187.31L234.49 188.35L234.74 189.35L234.99 190.20L235.25 190.79L235.50 191.00L235.75 190.83L236.00 190.33L236.25 189.59L236.50 188.67L236.75 187.67L237.00 186.64L237.25 185.62L237.50 184.62L237.75 183.67L238.00 182.77L238.25 181.93L238.50 181.14L238.75 180.39L239.00 179.70L239.25 179.06L239.50 178.46L239.75 177.90L240.00 177.39L240.25 176.91L240.50 176.47L240.75 176.06L241.00 175.68L241.25 175.34L241.50 175.03L241.75 174.74L242.00 174.49L242.25 174.26L242.50 174.05L242.75 173.87L243.00 173.72L243.25 173.59L243.50 173.49L243.75 173.40L244.00 173.35L244.25 173.31L244.50 173.30L244.75 173.31L245.00 173.36L245.25 173.43L245.50 173.53L245.75 173.67L246.00 173.83L246.25 174.02L246.50 174.25L246.75 174.50L247.00 174.79L247.25 175.10L247.50 175.45L247.75 175.83L248.00 176.23L248.25 176.66L248.50 177.11L248.75 177.57L249.00 178.04L249.25 178.49L249.50 178.91L249.75 179.27L250.00 179.56L250.25 179.74L250.50 179.80L250.75 179.76L251.00 179.65L251.25 179.47L251.50 179.22L251.75 178.92L252.00 178.56L252.25 178.15L252.50 177.70L252.75 177.21L253.00 176.69L253.25 176.13L253.50 175.55L253.75 174.96L254.00 174.34L254.25 173.72L254.50 173.09L254.75 172.47L255.00 171.85L255.25 171.23L255.50 170.64L255.75 170.06L256.00 169.51L256.25 168.99L256.50 168.50L256.75 168.03L257.00 167.57L257.25 167.12L257.50 166.66L257.75 166.21L258.00 165.76L258.25 165.31L258.50 164.86L258.75 164.41L259.00 163.96L259.25 163.50L259.50 163.05L259.75 162.59L260.00 162.12L260.25 161.65L260.50 161.18L260.75 160.69L261.00 160.20L261.25 159.71L261.50 159.20L261.75 158.69L262.01 158.20L262.26 157.71L262.51 157.23L262.77 156.74L263.02 156.25L263.27 155.74L263.53 155.21L263.78 154.66L264.03 154.08L264.29 153.46L264.54 152.79L264.79 152.08L265.05 151.32L265.30 150.50L267.20 140.00L268.30 125.00L269.40 110.00L269.90 100.00L270.20 85.00L270.40 70.20L270.60 85.00L270.90 100.00L271.40 110.00L272.60 125.00L273.70 140.00L274.80 150.00L275.05 151.47L275.30 152.87L275.55 154.21L275.80 155.47L276.05 156.67L276.30 157.80L276.55 158.87L276.80 159.88L277.05 160.82L277.30 161.70L277.57 162.55L277.85 163.25L278.12 163.82L278.40 164.31L278.68 164.74L278.95 165.15L279.23 165.56L279.50 166.00L279.77 166.45L280.03 166.88L280.30 167.29L280.57 167.70L280.83 168.10L281.10 168.49L281.37 168.89L281.63 169.28L281.90 169.69L282.17 170.11L282.43 170.55L282.70 171.00L282.96 171.45L283.22 171.90L283.48 172.35L283.73 172.81L283.99 173.27L284.25 173.75L284.51 174.24L284.77 174.74L285.02 175.27L285.28 175.82L285.54 176.40L285.80 177.00L286.07 177.69L286.34 178.46L286.61 179.30L286.89 180.18L287.16 181.10L287.43 182.04L287.70 183.00L287.98 184.05L288.25 185.21L288.52 186.42L288.80 187.60" stroke="#ff0000" stroke-width="1.2"/>
</g>
<g clip-path="url(#cb)" fill="none" stroke-linejoin="round" stroke-linecap="round">
<path d="M365.00 180.57L365.23 176.81L365.45 178.26L365.68 175.58L365.90 176.88L366.13 177.66L366.35 177.02L366.58 182.31L366.81 178.16L367.03 177.83L367.26 179.26L367.48 181.91L367.71 179.05L367.94 178.09L368.16 184.22L368.39 184.83L368.61 185.09L368.84 187.71L369.06 186.88L369.29 182.00L369.52 189.93L369.74 183.93L369.97 184.32L370.19 182.68L370.42 187.59L370.65 184.28L370.87 189.11L371.10 182.58L371.32 188.95L371.55 184.24L371.77 184.44L372.00 189.04L372.22 185.41L372.45 190.67L372.67 184.97L372.90 182.92L373.12 183.50L373.35 183.76L373.57 181.34L373.79 182.64L374.02 184.57L374.24 176.98L374.47 182.04L374.69 178.75L374.92 182.10L375.14 179.18L375.36 173.00L375.59 180.91L375.81 178.26L376.04 171.88L376.26 179.20L376.49 177.20L376.71 177.80L376.94 172.46L377.16 175.79L377.38 175.47L377.61 174.51L377.83 168.91L378.06 174.15L378.28 169.86L378.51 175.39L378.73 170.27L378.95 167.46L379.18 170.83L379.40 174.32L379.63 174.26L379.85 175.52L380.08 176.40L380.30 171.63L380.52 172.22L380.75 172.62L380.97 167.39L381.19 166.03L381.41 172.18L381.64 172.99L381.86 175.36L382.08 170.48L382.30 170.84L382.53 169.25L382.75 175.64L382.97 177.53L383.19 174.56L383.42 175.96L383.64 177.83L383.86 175.68L384.08 180.32L384.31 181.41L384.53 177.70L384.75 178.46L384.97 179.30L385.20 180.60L385.42 181.59L385.64 176.27L385.86 181.04L386.09 178.93L386.31 178.60L386.53 180.23L386.75 180.07L386.98 181.46L387.20 179.68L387.42 173.85L387.65 186.54L387.87 180.70L388.09 181.47L388.32 181.22L388.54 176.48L388.77 177.78L388.99 171.41L389.21 180.91L389.44 176.29L389.66 175.39L389.88 179.63L390.11 172.55L390.33 178.11L390.56 177.65L390.78 174.49L391.00 175.31L391.23 177.15L391.45 166.98L391.67 171.55L391.90 171.87L392.12 174.34L392.34 175.17L392.57 171.28L392.79 171.42L393.02 173.86L393.24 169.13L393.46 169.66L393.69 169.52L393.91 168.18L394.13 168.69L394.36 173.33L394.58 162.54L394.81 172.36L395.03 164.80L395.25 169.95L395.48 169.13L395.70 170.38L395.92 166.75L396.15 163.07L396.37 170.10L396.59 167.86L396.81 168.82L397.04 164.44L397.26 166.32L397.48 171.16L397.70 172.07L397.93 170.17L398.15 161.66L398.37 167.55L398.59 167.54L398.82 163.03L399.04 172.46L399.26 171.38L399.48 174.82L399.71 177.66L399.93 172.98L400.15 175.76L400.37 175.03L400.60 181.70L400.82 178.39L401.04 174.44L401.26 176.73L401.49 176.26L401.71 179.25L401.93 178.79L402.15 178.84L402.38 175.11L402.60 180.02L402.82 174.68L403.04 177.02L403.26 175.64L403.49 180.41L403.71 177.56L403.93 173.42L404.15 178.67L404.37 173.85L404.59 170.45L404.82 174.32L405.04 177.73L405.26 165.79L405.48 176.02L405.70 168.49L405.92 171.19L406.15 170.75L406.37 172.14L406.59 163.22L406.81 174.77L407.03 163.20L407.25 169.52L407.48 165.78L407.70 167.59L407.92 163.48L408.14 167.04L408.36 166.78L408.58 166.00L408.81 163.21L409.03 165.79L409.25 165.13L409.47 160.84L409.69 161.04L409.91 167.11L410.14 161.21L410.36 158.10L410.58 166.53L410.80 159.23L411.03 162.23L411.25 166.04L411.48 162.09L411.70 164.14L411.93 158.87L412.15 164.36L412.38 164.29L412.60 164.58L412.82 168.48L413.05 162.61L413.28 163.69L413.50 165.23L413.73 165.42L413.95 169.63L414.18 167.93L414.40 167.13L414.62 168.08L414.85 170.93L415.07 169.22L415.30 171.36L415.52 164.82L415.75 173.51L415.98 167.88L416.20 173.46L416.43 173.42L416.65 171.07L416.88 167.11L417.10 178.07L417.32 172.26L417.55 172.54L417.77 171.63L418.00 172.56L418.22 175.27L418.45 171.80L418.67 174.66L418.89 173.68L419.12 176.10L419.34 167.82L419.56 168.52L419.78 171.38L420.01 166.60L420.23 173.11L420.45 174.34L420.68 170.65L420.90 167.41L421.12 164.33L421.35 170.71L421.57 164.44L421.79 166.60L422.02 164.21L422.24 165.17L422.46 161.29L422.68 160.86L422.91 164.59L423.13 161.35L423.35 158.75L423.58 163.98L423.80 162.77L424.02 158.48L424.25 160.65L424.47 155.81L424.69 160.94L424.92 156.49L425.14 158.27L425.36 158.16L425.58 160.89L425.81 160.05L426.03 157.71L426.25 154.30L426.48 155.50L426.70 150.67L426.92 154.63L427.15 155.51L427.37 149.57L427.59 155.86L427.82 156.96L428.04 159.47L428.26 156.22L428.49 159.41L428.71 155.04L428.93 156.29L429.16 157.67L429.38 155.81L429.60 160.12L429.83 158.89L430.05 164.69L430.27 158.13L430.50 160.11L430.72 162.15L430.94 164.98L431.17 159.45L431.39 162.89L431.61 162.41L431.84 164.21L432.06 160.26L432.28 163.89L432.51 160.13L432.73 161.08L432.95 161.41L433.18 160.13L433.40 165.11L433.62 161.96L433.84 164.41L434.06 165.37L434.28 162.92L434.50 160.86L434.72 162.60L434.95 161.49L435.17 163.04L435.39 158.31L435.61 162.71L435.83 157.67L436.05 159.66L436.27 157.19L436.49 158.40L436.71 155.65L436.93 152.69L437.15 154.57L437.38 154.12L437.60 153.50L437.82 152.51L438.04 151.88L438.26 151.24L438.48 151.19L438.70 150.56L438.92 149.56L439.14 149.57L439.36 149.07L439.58 148.58L439.80 148.26L440.02 147.91L440.25 147.01L440.47 146.98L440.69 146.62L440.91 146.31L441.13 145.96L441.35 144.31L441.57 143.75L441.79 144.54L442.01 144.44L442.23 143.38L442.45 143.95L442.68 143.18L442.90 143.20L443.12 143.62L443.34 142.94L443.56 141.70L443.78 142.87L444.00 143.35L444.22 142.93L444.44 143.01L444.66 142.88L444.88 142.74L445.10 143.21L445.32 143.56L445.55 143.38L445.77 143.27L445.99 142.83L446.21 143.79L446.43 143.17L446.65 143.81L446.87 144.36L447.09 144.57L447.31 144.44L447.53 144.54L447.75 144.68L447.98 144.36L448.20 145.43L448.42 144.89L448.64 145.34L448.86 145.02L449.08 145.35L449.30 145.53L449.53 144.95L449.75 144.73L449.98 145.29L450.20 144.62L450.43 144.29L450.65 143.96L450.88 143.96L451.10 143.49L451.32 142.31L451.55 142.83L451.78 142.14L452.00 141.21L452.23 140.95L452.45 140.47L452.68 139.73L452.90 139.28L453.12 138.63L453.35 138.93L453.57 137.82L453.80 137.90L454.03 136.74L454.25 136.84L454.48 136.30L454.70 136.26L454.93 134.76L455.15 134.43L455.38 133.35L455.60 133.14L455.82 132.80L456.05 131.80L456.28 131.72L456.50 130.42L456.73 130.80L456.95 129.59L457.18 128.98L457.40 128.19L457.62 127.33L457.85 127.77L458.07 127.96L458.30 126.77L458.52 126.75L458.74 126.65L458.96 125.62L459.18 126.07L459.40 125.72L459.62 126.19L459.85 124.82L460.07 124.87L460.29 124.73L460.51 124.43L460.73 124.95L460.95 123.99L461.17 124.10L461.39 123.92L461.61 124.32L461.83 123.64L462.05 124.04L462.28 123.20L462.50 123.19L462.72 123.05L462.94 123.16L463.16 123.01L463.38 123.25L463.60 123.62L463.83 122.85L464.05 123.27L464.28 122.98L464.51 123.28L464.73 123.12L464.96 123.44L465.19 123.48L465.41 123.34L465.64 123.63L465.87 124.17L466.09 124.57L466.32 124.36L466.55 124.41L466.77 125.11L467.00 125.08L467.23 125.02L467.45 125.33L467.68 125.35L467.91 125.79L468.13 125.98L468.36 126.27L468.59 126.56L468.81 126.87L469.04 127.09L469.27 126.79L469.49 127.16L469.72 127.69L469.95 127.30L470.17 128.22L470.40 128.29L470.62 128.58L470.85 128.87L471.07 129.71L471.30 129.56L471.52 129.42L471.75 130.29L471.97 129.87L472.20 131.06L472.42 131.57L472.65 132.28L472.88 132.63L473.10 132.76L473.32 132.93L473.55 132.90L473.77 133.65L474.00 134.37L474.22 134.12L474.45 134.88L474.67 135.70L474.90 135.66L475.12 137.01L475.35 137.15L475.57 137.28L475.80 137.53L476.02 138.44L476.25 138.65L476.47 138.74L476.70 139.61L476.92 139.94L477.15 140.51L477.38 140.72L477.60 141.58L477.82 141.91L478.05 142.32L478.27 143.19L478.50 143.36L478.72 144.19L478.95 144.71L479.17 145.21L479.40 144.60L479.63 145.52L479.86 146.03L480.09 146.06L480.32 146.37L480.55 146.68L480.78 146.88L481.01 147.39L481.24 147.49L481.47 147.99L481.70 147.92L481.93 148.59L482.16 148.65L482.39 147.96L482.62 149.00L482.85 149.77L483.08 148.78L483.31 150.09L483.54 150.18L483.77 150.68L484.00 150.58L484.22 151.44L484.44 151.92L484.66 151.66L484.88 153.11L485.10 152.78L485.32 153.36L485.54 153.81L485.76 153.65L485.98 154.51L486.20 155.01L486.42 155.34L486.64 155.61L486.86 156.22L487.08 156.89L487.30 156.54L487.52 157.75L487.74 157.70L487.96 158.44L488.18 158.93L488.40 159.36L488.62 159.63L488.84 159.96L489.06 160.68L489.28 160.13L489.50 161.24L489.72 161.12L489.94 161.55L490.16 162.02L490.38 162.62L490.60 163.11L490.83 163.42L491.06 163.55L491.29 163.96L491.53 163.52L491.76 163.70L491.99 163.59L492.22 163.56L492.45 164.38L492.68 163.56L492.92 164.28L493.15 164.65L493.38 163.84L493.61 163.59L493.84 164.24L494.07 164.17L494.31 164.37L494.54 164.41L494.77 165.21L495.00 164.26L495.23 165.22L495.45 165.65L495.68 165.57L495.91 164.85L496.14 165.77L496.36 166.19L496.59 166.82L496.82 166.81L497.05 167.23L497.27 167.66L497.50 167.07L497.73 168.34L497.95 168.25L498.18 168.49L498.41 169.08L498.64 168.70L498.86 169.36L499.09 169.53L499.32 169.44L499.55 169.74L499.77 171.03L500.00 172.08L500.22 170.70L500.44 170.99L500.67 170.99L500.89 172.25L501.11 171.53L501.33 171.46L501.56 172.79L501.78 174.17L502.00 173.69L502.22 172.28L502.44 173.65L502.67 177.24L502.89 173.94L503.11 174.88L503.33 173.85L503.56 174.73L503.78 176.14L504.00 175.51L504.22 176.98L504.44 176.38L504.67 175.99L504.89 177.07L505.11 177.68L505.33 172.87L505.56 174.51L505.78 177.95L506.00 175.89L506.23 178.49L506.45 180.80L506.68 173.38L506.90 177.60L507.13 180.50L507.35 178.49L507.58 179.34L507.81 178.96L508.03 177.59L508.26 176.09L508.48 178.77L508.71 175.60L508.94 177.67L509.16 177.54L509.39 175.19L509.61 175.38L509.84 174.34L510.06 174.42L510.29 173.76L510.52 172.03L510.74 175.48L510.97 178.89L511.19 172.53L511.42 175.75L511.65 174.43L511.87 175.16L512.10 173.86L512.32 172.80L512.55 175.99L512.77 174.65L513.00 174.59L513.23 176.03L513.45 174.52L513.68 171.04L513.90 175.37L514.13 175.91L514.35 172.98L514.58 175.56L514.81 178.81L515.03 174.45L515.26 176.69L515.48 177.12L515.71 176.83L515.94 176.12L516.16 173.08L516.39 178.15L516.61 177.15L516.84 179.35L517.06 179.92L517.29 177.34L517.52 181.14L517.74 178.04L517.97 178.19L518.19 179.07L518.42 179.21L518.65 178.07L518.87 179.22L519.10 175.32L519.32 179.45L519.55 178.18L519.77 178.60L520.00 179.20L520.22 181.59L520.44 180.36L520.67 178.45L520.89 177.02L521.11 175.95L521.33 179.24L521.56 176.60L521.78 176.99L522.00 179.53L522.22 178.56L522.44 172.36L522.67 177.19L522.89 172.54L523.11 175.21L523.33 176.12L523.56 175.58L523.78 179.74L524.00 174.15L524.22 175.85L524.44 173.76L524.67 174.37L524.89 173.44L525.11 175.10L525.33 173.48L525.56 173.79L525.78 173.35L526.00 172.77L526.22 173.73L526.44 171.84L526.67 174.32L526.89 172.57L527.11 172.91L527.33 167.30L527.56 171.75L527.78 171.97L528.00 170.07L528.22 169.21L528.44 169.88L528.67 168.83L528.89 170.93L529.11 170.59L529.33 171.96L529.56 173.22L529.78 169.69L530.00 165.90L530.22 169.96L530.44 170.93L530.67 174.33L530.89 170.02L531.11 169.88L531.33 170.62L531.56 167.57L531.78 169.68L532.00 171.51L532.22 167.10L532.44 171.48L532.67 168.97L532.89 172.87L533.11 166.80L533.33 170.02L533.56 171.26L533.78 167.60L534.00 169.60L534.22 168.46L534.44 172.20L534.67 170.47L534.89 169.69L535.11 168.57L535.33 172.03L535.56 169.32L535.78 171.50L536.00 170.06L536.22 168.49L536.44 171.37L536.67 170.10L536.89 171.27L537.11 168.41L537.33 170.59L537.56 170.66L537.78 169.59L538.00 169.38L538.22 168.96L538.44 168.04L538.67 168.29L538.89 168.85L539.11 168.48L539.33 167.27L539.56 166.64L539.78 171.50L540.00 170.96L540.22 168.55L540.44 171.33L540.66 169.54L540.88 167.32L541.10 167.87L541.32 167.46L541.54 168.23L541.76 162.72L541.99 169.81L542.21 170.12L542.43 171.21L542.65 169.57L542.87 165.76L543.09 169.54L543.31 170.47L543.53 169.91L543.75 167.09L543.97 167.67L544.19 168.46L544.41 168.45L544.63 167.63L544.85 168.97L545.07 167.13L545.29 170.74L545.51 169.18L545.74 169.37L545.96 167.83L546.18 166.63L546.40 169.76L546.62 172.55L546.84 168.72L547.06 169.38L547.28 169.20L547.50 168.32L547.72 168.41L547.94 166.69L548.16 167.35L548.38 167.69L548.60 166.03L548.82 168.40L549.04 166.97L549.26 166.79L549.49 167.24L549.71 165.82L549.93 169.02L550.15 169.88L550.37 167.31L550.59 165.70L550.81 169.18L551.03 168.51L551.25 167.25L551.47 169.57L551.69 168.22L551.91 165.56L552.13 168.68L552.35 168.15L552.57 164.37L552.79 167.82L553.01 162.16L553.24 167.68L553.46 169.42L553.68 166.85L553.90 165.90L554.12 162.82L554.34 165.51L554.56 166.15L554.78 168.46L555.00 168.08L555.22 167.91L555.44 166.94L555.67 169.41L555.89 165.79L556.11 166.36L556.33 165.80L556.56 167.82L556.78 165.31L557.00 165.30L557.22 161.90L557.44 166.45L557.67 166.16L557.89 166.02L558.11 166.82L558.33 164.79L558.56 164.88L558.78 164.54L559.00 166.88L559.22 161.59L559.44 162.09L559.67 162.59L559.89 163.70L560.11 164.68L560.33 164.37L560.56 163.06L560.78 164.17L561.00 162.93L561.22 166.70L561.44 165.22L561.67 163.59L561.89 163.84L562.11 162.13L562.33 161.06L562.56 161.97L562.78 162.56L563.00 161.63L563.22 162.06L563.44 161.97L563.67 161.68L563.89 162.33L564.11 161.07L564.33 158.29L564.56 163.30L564.78 156.82L565.00 162.03L565.22 161.58L565.44 159.04L565.67 162.06L565.89 159.35L566.11 161.60L566.33 157.51L566.56 157.46L566.78 159.47L567.00 161.86L567.22 159.19L567.45 161.17L567.67 157.91L567.89 155.70L568.12 157.60L568.34 158.06L568.56 156.73L568.79 157.91L569.01 160.14L569.24 157.07L569.46 156.93L569.68 157.77L569.91 154.78L570.13 153.35L570.35 155.42L570.58 154.51L570.80 150.91L571.02 153.16L571.25 153.10L571.47 151.72L571.69 154.26L571.92 152.46L572.14 154.33L572.36 152.94L572.59 150.94L572.81 150.66L573.04 151.00L573.26 148.73L573.48 150.64L573.71 150.10L573.93 150.78L574.15 148.96L574.38 147.14L574.60 150.88L574.83 148.09L575.05 145.82L575.27 146.85L575.50 146.84L575.73 147.21L575.95 147.64L576.18 144.32L576.40 144.86L576.62 142.58L576.85 145.68L577.08 143.30L577.30 141.07L577.52 142.73L577.75 139.85L577.98 140.26L578.20 139.80L578.43 141.12L578.65 134.05L578.88 137.56L579.10 135.85L579.33 136.50L579.55 131.09L579.78 129.64L580.01 128.55L580.23 125.76L580.46 123.95L580.69 121.54L580.91 118.55L581.14 116.58L581.37 114.31L581.59 110.99L581.82 108.35L582.05 105.22L582.27 102.49L582.50 99.79L582.73 97.23L582.95 93.10L583.18 89.81L583.41 86.08L583.64 81.89L583.86 78.33L584.09 73.94L584.32 70.32L584.55 66.86L584.77 63.68L585.00 60.16L585.22 57.35L585.44 54.01L585.67 50.61L585.89 47.97L586.11 45.44L586.33 41.89L586.56 41.61L586.78 40.21L587.00 39.78L587.22 40.29L587.44 41.67L587.67 43.30L587.89 44.92L588.11 47.05L588.33 50.27L588.56 53.21L588.78 56.52L589.00 60.15L589.22 63.61L589.44 67.75L589.67 72.86L589.89 76.99L590.11 82.35L590.33 87.12L590.56 92.33L590.78 96.32L591.00 99.59L591.23 103.29L591.45 107.59L591.68 111.81L591.91 115.44L592.14 119.78L592.36 122.40L592.59 125.78L592.82 128.04L593.05 131.36L593.27 133.31L593.50 135.20L593.72 136.04L593.94 136.47L594.16 138.25L594.38 139.91L594.60 140.45L594.83 141.16L595.05 141.95L595.27 141.37L595.49 143.04L595.71 143.61L595.93 145.30L596.15 143.80L596.37 144.16L596.59 140.45L596.81 147.12L597.03 145.88L597.25 144.29L597.47 148.07L597.70 150.27L597.92 146.96L598.14 144.85L598.36 149.28L598.58 147.87L598.80 148.25L599.03 145.28L599.25 150.78L599.48 150.19L599.70 152.73L599.93 151.94L600.16 151.38L600.38 153.03L600.61 155.02L600.83 150.09L601.06 157.44L601.29 151.43L601.51 156.22L601.74 155.90L601.97 154.89L602.19 157.42L602.42 159.42L602.64 160.35L602.87 160.77L603.10 161.33L603.32 160.36L603.55 162.30L603.77 158.81L604.00 166.23L604.25 165.63L604.50 165.13L604.75 165.78L605.00 165.09L605.25 164.37L605.50 163.98" stroke="#dedede" stroke-width="0.7"/>
<path d="M365.00 188.40L365.26 188.75L365.51 189.13L365.77 189.52L366.02 189.93L366.28 190.35L366.54 190.78L366.79 191.22L367.05 191.67L367.31 192.12L367.56 192.58L367.82 193.03L368.07 193.49L368.33 193.95L368.59 194.40L368.84 194.84L369.10 195.28L369.36 195.70L369.61 196.11L369.87 196.51L370.12 196.89L370.38 197.25L370.64 197.59L370.89 197.90L371.15 198.20L371.41 198.46L371.66 198.70L371.92 198.90L372.18 199.08L372.43 199.22L372.69 199.32L372.94 199.38L373.20 199.40L373.45 199.33L373.70 199.12L373.95 198.79L374.21 198.34L374.46 197.79L374.71 197.17L374.96 196.50L375.21 195.78L375.46 195.05L375.72 194.30L375.97 193.56L376.22 192.83L376.47 192.12L376.72 191.44L376.97 190.78L377.23 190.16L377.48 189.58L377.73 189.03L377.98 188.52L378.23 188.06L378.48 187.63L378.74 187.24L378.99 186.90L379.24 186.59L379.49 186.33L379.74 186.11L379.99 185.92L380.25 185.78L380.50 185.68L380.75 185.62L381.00 185.60L381.25 185.62L381.50 185.69L381.75 185.80L382.00 185.96L382.25 186.16L382.50 186.41L382.75 186.71L383.00 187.05L383.25 187.44L383.50 187.88L383.75 188.36L384.00 188.90L384.25 189.48L384.50 190.10L384.75 190.78L385.00 191.49L385.25 192.25L385.50 193.04L385.75 193.85L386.00 194.68L386.25 195.51L386.50 196.32L386.75 197.09L387.00 197.78L387.25 198.37L387.50 198.82L387.75 199.10L388.00 199.20L388.25 199.10L388.50 198.81L388.75 198.35L389.01 197.73L389.26 197.00L389.51 196.17L389.76 195.28L390.01 194.36L390.26 193.42L390.52 192.48L390.77 191.56L391.02 190.67L391.27 189.80L391.52 188.98L391.77 188.20L392.03 187.47L392.28 186.78L392.53 186.14L392.78 185.55L393.03 185.01L393.28 184.52L393.54 184.07L393.79 183.68L394.04 183.33L394.29 183.03L394.54 182.77L394.79 182.57L395.05 182.41L395.30 182.29L395.55 182.22L395.80 182.20L396.05 182.22L396.31 182.28L396.56 182.38L396.81 182.52L397.07 182.71L397.32 182.93L397.57 183.20L397.83 183.51L398.08 183.87L398.33 184.27L398.59 184.72L398.84 185.22L399.09 185.77L399.35 186.36L399.60 187.02L399.85 187.73L400.11 188.49L400.36 189.31L400.61 190.19L400.87 191.12L401.12 192.10L401.37 193.12L401.63 194.18L401.88 195.24L402.13 196.28L402.39 197.26L402.64 198.12L402.89 198.81L403.15 199.25L403.40 199.40L403.66 199.18L403.91 198.56L404.17 197.60L404.42 196.39L404.68 195.03L404.93 193.59L405.19 192.14L405.44 190.70L405.70 189.31L405.95 187.99L406.21 186.74L406.46 185.57L406.72 184.47L406.97 183.46L407.23 182.53L407.48 181.67L407.74 180.89L407.99 180.18L408.25 179.54L408.50 178.97L408.76 178.46L409.01 178.02L409.27 177.64L409.52 177.32L409.78 177.06L410.03 176.86L410.29 176.71L410.54 176.63L410.80 176.60L411.06 176.63L411.31 176.70L411.57 176.83L411.82 177.02L412.08 177.26L412.33 177.55L412.59 177.90L412.84 178.31L413.10 178.79L413.36 179.32L413.61 179.93L413.87 180.61L414.12 181.36L414.38 182.20L414.63 183.13L414.89 184.15L415.14 185.28L415.40 186.52L415.66 187.87L415.91 189.34L416.17 190.93L416.42 192.62L416.68 194.36L416.93 196.06L417.19 197.55L417.44 198.61L417.70 199.00L417.95 198.65L418.20 197.65L418.45 196.17L418.71 194.39L418.96 192.48L419.21 190.55L419.46 188.66L419.71 186.85L419.96 185.15L420.22 183.55L420.47 182.06L420.72 180.67L420.97 179.39L421.22 178.20L421.47 177.11L421.72 176.10L421.98 175.16L422.23 174.31L422.48 173.53L422.73 172.81L422.98 172.16L423.23 171.57L423.48 171.04L423.74 170.56L423.99 170.14L424.24 169.77L424.49 169.46L424.74 169.19L424.99 168.98L425.25 168.81L425.50 168.69L425.75 168.62L426.00 168.60L426.25 168.62L426.51 168.70L426.76 168.82L427.02 168.98L427.27 169.20L427.52 169.48L427.78 169.80L428.03 170.18L428.28 170.63L428.54 171.14L428.79 171.71L429.05 172.37L429.30 173.10L429.55 173.93L429.81 174.86L430.06 175.91L430.32 177.11L430.57 178.46L430.82 180.02L431.08 181.82L431.33 183.93L431.58 186.44L431.84 189.47L432.09 193.09L432.35 196.95L432.60 199.00L432.85 197.21L433.11 193.30L433.36 189.12L433.61 185.34L433.86 182.06L434.12 179.21L434.37 176.73L434.62 174.55L434.88 172.62L435.13 170.89L435.38 169.34L435.64 167.94L435.89 166.67L436.14 165.51L436.39 164.46L436.65 163.50L436.90 162.62L437.15 161.82L437.41 161.09L437.66 160.42L437.91 159.82L438.16 159.27L438.42 158.77L438.67 158.33L438.92 157.93L439.18 157.58L439.43 157.27L439.68 157.01L439.94 156.79L440.19 156.61L440.44 156.48L440.69 156.38L440.95 156.32L441.20 156.30L441.46 156.33L441.71 156.42L441.97 156.56L442.22 156.77L442.48 157.04L442.74 157.38L442.99 157.78L443.25 158.26L443.50 158.81L443.76 159.44L444.02 160.16L444.27 160.98L444.53 161.90L444.78 162.96L445.04 164.15L445.30 165.51L445.55 167.07L445.81 168.87L446.06 170.98L446.32 173.49L446.58 176.57L446.83 180.44L447.09 185.54L447.34 192.30L447.60 197.40L447.85 195.11L448.11 189.88L448.36 184.03L448.61 178.56L448.86 173.71L449.12 169.43L449.37 165.66L449.62 162.30L449.87 159.29L450.13 156.57L450.38 154.09L450.63 151.83L450.88 149.74L451.14 147.81L451.39 146.02L451.64 144.36L451.89 142.80L452.15 141.34L452.40 139.97L452.65 138.68L452.90 137.47L453.16 136.32L453.41 135.24L453.66 134.22L453.91 133.25L454.17 132.33L454.42 131.46L454.67 130.64L454.92 129.85L455.18 129.11L455.43 128.41L455.68 127.74L455.93 127.11L456.19 126.51L456.44 125.94L456.69 125.40L456.94 124.90L457.20 124.42L457.45 123.97L457.70 123.54L457.95 123.14L458.21 122.77L458.46 122.42L458.71 122.09L458.96 121.79L459.22 121.51L459.47 121.25L459.72 121.02L459.97 120.80L460.23 120.61L460.48 120.44L460.73 120.29L460.98 120.16L461.24 120.05L461.49 119.96L461.74 119.89L461.99 119.84L462.25 119.81L462.50 119.80L462.75 119.81L463.01 119.84L463.26 119.89L463.51 119.97L463.77 120.06L464.02 120.17L464.27 120.31L464.53 120.47L464.78 120.65L465.03 120.85L465.29 121.07L465.54 121.32L465.79 121.59L466.05 121.88L466.30 122.20L466.56 122.54L466.81 122.90L467.06 123.29L467.32 123.71L467.57 124.16L467.82 124.63L468.08 125.13L468.33 125.67L468.58 126.23L468.84 126.83L469.09 127.46L469.34 128.12L469.60 128.82L469.85 129.57L470.10 130.35L470.36 131.17L470.61 132.05L470.86 132.97L471.12 133.94L471.37 134.96L471.62 136.05L471.88 137.20L472.13 138.42L472.38 139.72L472.64 141.10L472.89 142.56L473.14 144.13L473.40 145.81L473.65 147.62L473.91 149.56L474.16 151.67L474.41 153.95L474.67 156.46L474.92 159.20L475.17 162.25L475.43 165.64L475.68 169.47L475.93 173.80L476.19 178.73L476.44 184.31L476.69 190.31L476.95 195.71L477.20 198.10L477.45 193.21L477.70 186.33L477.96 180.98L478.21 176.87L478.46 173.59L478.71 170.89L478.96 168.61L479.21 166.66L479.47 164.97L479.72 163.48L479.97 162.17L480.22 161.01L480.47 159.97L480.73 159.05L480.98 158.23L481.23 157.50L481.48 156.86L481.73 156.29L481.99 155.79L482.24 155.36L482.49 154.99L482.74 154.68L482.99 154.43L483.24 154.24L483.50 154.11L483.75 154.03L484.00 154.00L484.25 154.02L484.51 154.08L484.76 154.17L485.02 154.31L485.27 154.48L485.53 154.69L485.78 154.95L486.04 155.25L486.29 155.59L486.55 155.98L486.80 156.42L487.05 156.90L487.31 157.44L487.56 158.04L487.82 158.70L488.07 159.42L488.33 160.22L488.58 161.09L488.84 162.05L489.09 163.11L489.35 164.28L489.60 165.57L489.85 167.01L490.11 168.61L490.36 170.43L490.62 172.48L490.87 174.85L491.13 177.61L491.38 180.89L491.64 184.82L491.89 189.53L492.15 194.59L492.40 197.30L492.65 193.83L492.90 188.63L493.15 184.45L493.40 181.20L493.65 178.60L493.90 176.46L494.15 174.66L494.40 173.12L494.65 171.79L494.90 170.63L495.15 169.62L495.40 168.73L495.65 167.95L495.90 167.26L496.15 166.66L496.40 166.14L496.65 165.69L496.90 165.31L497.15 165.00L497.40 164.74L497.65 164.55L497.90 164.41L498.15 164.33L498.40 164.30L498.65 164.31L498.90 164.36L499.15 164.42L499.41 164.52L499.66 164.65L499.91 164.80L500.16 164.98L500.41 165.20L500.66 165.44L500.91 165.72L501.17 166.03L501.42 166.38L501.67 166.76L501.92 167.18L502.17 167.65L502.42 168.16L502.67 168.71L502.93 169.32L503.18 169.98L503.43 170.70L503.68 171.49L503.93 172.36L504.18 173.31L504.43 174.36L504.69 175.52L504.94 176.81L505.19 178.25L505.44 179.87L505.69 181.71L505.94 183.81L506.19 186.23L506.45 189.00L506.70 192.04L506.95 194.84L507.20 196.10L507.46 194.55L507.71 191.49L507.97 188.51L508.23 185.97L508.49 183.84L508.74 182.04L509.00 180.49L509.26 179.14L509.51 177.96L509.77 176.92L510.03 176.00L510.29 175.18L510.54 174.44L510.80 173.78L511.06 173.19L511.31 172.66L511.57 172.19L511.83 171.77L512.09 171.40L512.34 171.07L512.60 170.79L512.86 170.55L513.11 170.35L513.37 170.19L513.63 170.06L513.89 169.97L514.14 169.92L514.40 169.90L514.65 169.92L514.91 169.97L515.16 170.06L515.41 170.18L515.67 170.35L515.92 170.55L516.17 170.79L516.43 171.07L516.68 171.39L516.94 171.76L517.19 172.18L517.44 172.65L517.70 173.18L517.95 173.76L518.20 174.42L518.46 175.15L518.71 175.97L518.96 176.88L519.22 177.90L519.47 179.06L519.73 180.37L519.98 181.87L520.23 183.59L520.49 185.59L520.74 187.90L520.99 190.44L521.25 192.82L521.50 193.90L521.75 193.06L522.00 191.17L522.25 189.08L522.50 187.14L522.75 185.44L523.00 183.95L523.25 182.65L523.50 181.51L523.75 180.49L524.00 179.59L524.25 178.78L524.50 178.06L524.75 177.40L525.00 176.81L525.25 176.28L525.50 175.80L525.75 175.36L526.00 174.97L526.25 174.62L526.50 174.31L526.75 174.03L527.00 173.79L527.25 173.57L527.50 173.39L527.75 173.24L528.00 173.12L528.25 173.02L528.50 172.95L528.75 172.91L529.00 172.90L529.25 172.91L529.50 172.96L529.75 173.02L530.01 173.12L530.26 173.25L530.51 173.40L530.76 173.59L531.01 173.80L531.26 174.05L531.52 174.33L531.77 174.65L532.02 175.00L532.27 175.39L532.52 175.83L532.77 176.31L533.03 176.83L533.28 177.41L533.53 178.05L533.78 178.75L534.03 179.53L534.28 180.38L534.54 181.31L534.79 182.35L535.04 183.50L535.29 184.77L535.54 186.17L535.79 187.69L536.05 189.27L536.30 190.78L536.55 191.95L536.80 192.40L537.06 191.89L537.31 190.61L537.57 189.02L537.83 187.41L538.09 185.91L538.34 184.55L538.60 183.33L538.86 182.24L539.11 181.27L539.37 180.40L539.63 179.61L539.89 178.91L540.14 178.27L540.40 177.70L540.66 177.19L540.91 176.73L541.17 176.31L541.43 175.94L541.69 175.62L541.94 175.33L542.20 175.09L542.46 174.87L542.71 174.70L542.97 174.55L543.23 174.44L543.49 174.36L543.74 174.32L544.00 174.30L544.26 174.31L544.51 174.36L544.77 174.43L545.03 174.53L545.29 174.66L545.54 174.82L545.80 175.01L546.06 175.23L546.31 175.49L546.57 175.78L546.83 176.11L547.09 176.48L547.34 176.89L547.60 177.34L547.86 177.85L548.11 178.40L548.37 179.01L548.63 179.68L548.89 180.42L549.14 181.23L549.40 182.10L549.66 183.06L549.91 184.07L550.17 185.13L550.43 186.17L550.69 187.09L550.94 187.76L551.20 188.00L551.45 187.77L551.70 187.14L551.95 186.22L552.20 185.14L552.45 184.02L552.70 182.90L552.95 181.83L553.20 180.81L553.45 179.87L553.70 179.00L553.95 178.19L554.20 177.44L554.45 176.76L554.70 176.12L554.95 175.54L555.20 175.01L555.45 174.52L555.70 174.08L555.95 173.67L556.20 173.30L556.45 172.97L556.70 172.67L556.95 172.40L557.20 172.16L557.45 171.96L557.70 171.78L557.95 171.63L558.20 171.51L558.45 171.42L558.70 171.35L558.95 171.31L559.20 171.30L559.45 171.32L559.71 171.38L559.96 171.48L560.22 171.62L560.47 171.80L560.73 172.02L560.98 172.28L561.23 172.58L561.49 172.93L561.74 173.31L562.00 173.74L562.25 174.21L562.50 174.72L562.76 175.27L563.01 175.85L563.27 176.46L563.52 177.09L563.77 177.71L564.03 178.32L564.28 178.89L564.54 179.38L564.79 179.77L565.05 180.02L565.30 180.10L565.57 179.91L565.85 179.41L566.12 178.66L566.40 177.74L566.67 176.74L566.95 175.73L567.23 174.79L567.50 174.00L567.75 173.38L568.00 172.78L568.25 172.20L568.50 171.64L568.75 171.09L569.00 170.55L569.25 170.02L569.50 169.50L569.75 168.97L570.00 168.42L570.25 167.86L570.50 167.30L570.75 166.74L571.00 166.18L571.25 165.64L571.50 165.11L571.75 164.59L572.00 164.11L572.25 163.65L572.50 163.22L572.75 162.84L573.00 162.50L573.25 162.20L573.50 161.92L573.75 161.67L574.00 161.45L574.25 161.24L574.50 161.04L574.75 160.87L575.00 160.70L575.25 160.54L575.50 160.39L575.75 160.24L576.00 160.09L576.25 159.95L576.50 159.79L576.75 159.64L577.00 159.47L577.25 159.29L577.50 159.10L577.75 158.89L578.00 158.66L578.25 158.41L578.50 158.13L578.75 157.83L579.00 157.50L579.25 157.14L579.50 156.76L579.75 156.34L580.00 155.88L580.25 155.38L580.50 154.82L580.75 154.20L581.00 153.52L581.25 152.77L581.50 151.93L581.75 151.01L582.00 150.00L584.30 135.00L585.40 120.00L586.30 105.00L586.80 90.00L587.00 70.00L587.10 49.60L587.40 70.00L587.90 90.00L588.50 105.00L589.50 120.00L590.80 135.00L592.30 148.60L592.56 149.92L592.82 151.13L593.08 152.26L593.35 153.30L593.61 154.27L593.87 155.18L594.13 156.04L594.39 156.86L594.65 157.65L594.92 158.42L595.18 159.18L595.44 159.93L595.70 160.70L595.96 161.40L596.21 162.01L596.47 162.54L596.72 163.02L596.98 163.47L597.23 163.92L597.49 164.40L597.74 164.91L598.00 165.50L598.26 166.14L598.51 166.81L598.77 167.51L599.02 168.22L599.28 168.95L599.53 169.70L599.79 170.46L600.04 171.23L600.30 172.00L600.57 172.85L600.83 173.76L601.10 174.70L601.37 175.62L601.63 176.50L601.90 177.30L602.16 178.01L602.42 178.70L602.69 179.35L602.95 179.98L603.21 180.59L603.48 181.18L603.74 181.75L604.00 182.30L604.25 182.79L604.50 183.23L604.75 183.63L605.00 184.01L605.25 184.40L605.50 184.80" stroke="#0000ff" stroke-width="1.2"/>
<path d="M365.00 173.30L365.25 173.68L365.50 174.08L365.76 174.51L366.01 174.95L366.26 175.41L366.51 175.88L366.76 176.36L367.01 176.84L367.27 177.33L367.52 177.82L367.77 178.31L368.02 178.79L368.27 179.26L368.53 179.71L368.78 180.16L369.03 180.58L369.28 180.99L369.53 181.37L369.79 181.72L370.04 182.04L370.29 182.33L370.54 182.58L370.79 182.80L371.04 182.97L371.30 183.10L371.55 183.17L371.80 183.20L372.05 183.14L372.30 182.96L372.55 182.67L372.80 182.28L373.05 181.82L373.30 181.29L373.55 180.71L373.80 180.10L374.05 179.47L374.30 178.83L374.55 178.20L374.80 177.58L375.05 176.97L375.30 176.38L375.55 175.82L375.80 175.28L376.05 174.77L376.30 174.29L376.55 173.84L376.80 173.42L377.05 173.02L377.30 172.66L377.55 172.33L377.80 172.03L378.05 171.75L378.30 171.51L378.55 171.29L378.80 171.11L379.05 170.95L379.30 170.83L379.55 170.73L379.80 170.66L380.05 170.61L380.30 170.60L380.56 170.62L380.81 170.67L381.07 170.76L381.32 170.88L381.58 171.04L381.83 171.23L382.09 171.46L382.34 171.73L382.60 172.03L382.86 172.37L383.11 172.74L383.37 173.16L383.62 173.61L383.88 174.09L384.13 174.61L384.39 175.17L384.64 175.75L384.90 176.35L385.16 176.97L385.41 177.59L385.67 178.20L385.92 178.78L386.18 179.31L386.43 179.76L386.69 180.11L386.94 180.33L387.20 180.40L387.45 180.33L387.70 180.14L387.95 179.83L388.20 179.42L388.45 178.92L388.70 178.35L388.95 177.73L389.20 177.07L389.45 176.40L389.70 175.72L389.95 175.04L390.20 174.38L390.45 173.73L390.70 173.10L390.95 172.49L391.20 171.92L391.45 171.37L391.70 170.85L391.95 170.37L392.20 169.92L392.45 169.50L392.70 169.11L392.95 168.75L393.20 168.43L393.45 168.13L393.70 167.87L393.95 167.64L394.20 167.45L394.45 167.28L394.70 167.14L394.95 167.04L395.20 166.96L395.45 166.92L395.70 166.90L395.96 166.92L396.21 166.97L396.47 167.06L396.72 167.18L396.98 167.35L397.23 167.54L397.49 167.78L397.74 168.05L398.00 168.36L398.26 168.70L398.51 169.09L398.77 169.51L399.02 169.97L399.28 170.46L399.53 170.99L399.79 171.56L400.04 172.15L400.30 172.77L400.56 173.40L400.81 174.03L401.07 174.65L401.32 175.25L401.58 175.79L401.83 176.25L402.09 176.60L402.34 176.82L402.60 176.90L402.86 176.82L403.11 176.59L403.37 176.22L403.62 175.73L403.88 175.14L404.14 174.47L404.39 173.75L404.65 173.00L404.91 172.23L405.16 171.46L405.42 170.70L405.68 169.95L405.93 169.23L406.19 168.54L406.44 167.89L406.70 167.27L406.96 166.68L407.21 166.14L407.47 165.63L407.73 165.16L407.98 164.73L408.24 164.34L408.49 163.99L408.75 163.67L409.01 163.40L409.26 163.16L409.52 162.96L409.78 162.79L410.03 162.66L410.29 162.57L410.54 162.52L410.80 162.50L411.06 162.52L411.31 162.57L411.57 162.65L411.83 162.76L412.09 162.91L412.34 163.09L412.60 163.31L412.86 163.56L413.11 163.84L413.37 164.16L413.63 164.51L413.89 164.90L414.14 165.32L414.40 165.78L414.66 166.27L414.91 166.79L415.17 167.34L415.43 167.91L415.69 168.51L415.94 169.11L416.20 169.72L416.46 170.31L416.71 170.86L416.97 171.37L417.23 171.80L417.49 172.12L417.74 172.33L418.00 172.40L418.26 172.32L418.51 172.08L418.77 171.69L419.02 171.18L419.28 170.55L419.54 169.85L419.79 169.08L420.05 168.26L420.30 167.42L420.56 166.58L420.81 165.73L421.07 164.90L421.33 164.09L421.58 163.31L421.84 162.56L422.09 161.84L422.35 161.16L422.61 160.52L422.86 159.92L423.12 159.35L423.37 158.83L423.63 158.35L423.89 157.90L424.14 157.50L424.40 157.14L424.65 156.81L424.91 156.53L425.16 156.28L425.42 156.07L425.68 155.90L425.93 155.77L426.19 155.68L426.44 155.62L426.70 155.60L426.96 155.62L427.22 155.66L427.47 155.75L427.73 155.86L427.99 156.01L428.25 156.19L428.50 156.40L428.76 156.64L429.02 156.92L429.28 157.23L429.53 157.57L429.79 157.95L430.05 158.35L430.31 158.78L430.57 159.24L430.82 159.72L431.08 160.21L431.34 160.71L431.60 161.21L431.85 161.70L432.11 162.16L432.37 162.57L432.63 162.91L432.88 163.18L433.14 163.34L433.40 163.40L433.65 163.33L433.90 163.14L434.16 162.84L434.41 162.43L434.66 161.93L434.91 161.35L435.17 160.70L435.42 159.99L435.67 159.22L435.92 158.42L436.18 157.59L436.43 156.74L436.68 155.88L436.93 155.02L437.19 154.18L437.44 153.36L437.69 152.58L437.94 151.84L438.20 151.16L438.45 150.54L438.70 150.00L438.95 149.50L439.20 148.99L439.46 148.49L439.71 147.98L439.96 147.48L440.21 146.99L440.47 146.51L440.72 146.04L440.97 145.59L441.22 145.15L441.48 144.74L441.73 144.36L441.98 144.00L442.23 143.67L442.49 143.38L442.74 143.12L442.99 142.91L443.24 142.73L443.50 142.61L443.75 142.53L444.00 142.50L444.25 142.51L444.50 142.54L444.76 142.59L445.01 142.66L445.26 142.75L445.51 142.86L445.77 142.98L446.02 143.12L446.27 143.28L446.52 143.45L446.78 143.63L447.03 143.82L447.28 144.01L447.53 144.20L447.79 144.38L448.04 144.55L448.29 144.70L448.54 144.83L448.80 144.92L449.05 144.98L449.30 145.00L449.55 144.96L449.80 144.83L450.05 144.63L450.30 144.36L450.55 144.03L450.80 143.64L451.05 143.21L451.30 142.73L451.55 142.22L451.80 141.69L452.05 141.13L452.30 140.56L452.55 139.98L452.80 139.39L453.05 138.82L453.30 138.26L453.55 137.72L453.80 137.20L454.05 136.68L454.30 136.13L454.55 135.56L454.80 134.96L455.05 134.34L455.30 133.71L455.55 133.08L455.80 132.44L456.05 131.80L456.30 131.17L456.55 130.56L456.80 129.96L457.05 129.38L457.30 128.83L457.55 128.31L457.80 127.83L458.05 127.39L458.30 127.00L458.55 126.64L458.80 126.29L459.06 125.95L459.31 125.63L459.56 125.32L459.81 125.03L460.07 124.76L460.32 124.50L460.57 124.26L460.82 124.03L461.08 123.83L461.33 123.64L461.58 123.46L461.83 123.31L462.09 123.18L462.34 123.06L462.59 122.97L462.84 122.90L463.10 122.84L463.35 122.81L463.60 122.80L463.85 122.81L464.10 122.84L464.36 122.90L464.61 122.97L464.86 123.06L465.11 123.17L465.36 123.30L465.61 123.44L465.87 123.60L466.12 123.77L466.37 123.96L466.62 124.16L466.87 124.37L467.13 124.59L467.38 124.82L467.63 125.07L467.88 125.32L468.13 125.58L468.39 125.84L468.64 126.11L468.89 126.39L469.14 126.67L469.39 126.95L469.64 127.24L469.90 127.52L470.15 127.81L470.40 128.10L470.65 128.40L470.90 128.72L471.15 129.07L471.40 129.43L471.65 129.82L471.90 130.22L472.15 130.64L472.40 131.07L472.65 131.52L472.90 131.97L473.15 132.43L473.40 132.90L473.65 133.36L473.90 133.84L474.15 134.31L474.40 134.78L474.65 135.24L474.90 135.70L475.15 136.16L475.40 136.64L475.65 137.13L475.90 137.63L476.15 138.14L476.40 138.65L476.65 139.17L476.90 139.69L477.15 140.21L477.40 140.73L477.65 141.24L477.90 141.74L478.15 142.24L478.40 142.72L478.65 143.19L478.90 143.65L479.15 144.08L479.40 144.50L479.66 144.90L479.91 145.28L480.17 145.64L480.42 145.97L480.68 146.29L480.93 146.60L481.19 146.90L481.44 147.20L481.70 147.49L481.96 147.78L482.21 148.08L482.47 148.38L482.72 148.69L482.98 149.01L483.23 149.35L483.49 149.71L483.74 150.09L484.00 150.50L484.25 150.94L484.50 151.43L484.75 151.96L485.00 152.52L485.25 153.10L485.50 153.70L485.75 154.29L486.00 154.89L486.25 155.46L486.50 156.01L486.75 156.53L487.00 157.00L487.26 157.46L487.51 157.91L487.77 158.36L488.03 158.79L488.29 159.22L488.54 159.63L488.80 160.03L489.06 160.42L489.31 160.78L489.57 161.13L489.83 161.46L490.09 161.76L490.34 162.05L490.60 162.30L490.86 162.53L491.12 162.72L491.38 162.88L491.64 163.03L491.89 163.15L492.15 163.25L492.41 163.35L492.67 163.43L492.93 163.52L493.19 163.60L493.45 163.68L493.71 163.78L493.96 163.88L494.22 164.00L494.48 164.14L494.74 164.31L495.00 164.50L495.26 164.70L495.51 164.90L495.77 165.10L496.02 165.30L496.28 165.50L496.53 165.71L496.79 165.93L497.04 166.16L497.30 166.40L497.56 166.65L497.81 166.93L498.07 167.22L498.32 167.53L498.58 167.87L498.83 168.23L499.09 168.62L499.34 169.05L499.60 169.50L499.86 170.03L500.12 170.64L500.38 171.34L500.64 172.09L500.90 172.90L501.16 173.74L501.42 174.61L501.68 175.49L501.94 176.38L502.20 177.25L502.46 178.10L502.72 178.91L502.98 179.67L503.24 180.38L503.50 181.00L503.76 181.54L504.02 181.99L504.28 182.32L504.54 182.53L504.80 182.60L505.06 182.44L505.31 182.01L505.57 181.37L505.82 180.61L506.08 179.80L506.33 178.98L506.59 178.19L506.84 177.45L507.10 176.75L507.36 176.10L507.61 175.51L507.87 174.96L508.12 174.46L508.38 174.01L508.63 173.60L508.89 173.23L509.14 172.90L509.40 172.60L509.66 172.34L509.91 172.12L510.17 171.93L510.42 171.76L510.68 171.63L510.93 171.53L511.19 171.46L511.44 171.41L511.70 171.40L511.95 171.41L512.20 171.46L512.45 171.53L512.71 171.63L512.96 171.76L513.21 171.93L513.46 172.12L513.71 172.34L513.96 172.60L514.22 172.89L514.47 173.22L514.72 173.59L514.97 174.00L515.22 174.44L515.47 174.94L515.72 175.48L515.98 176.07L516.23 176.72L516.48 177.44L516.73 178.22L516.98 179.08L517.23 180.02L517.48 181.06L517.74 182.21L517.99 183.49L518.24 184.91L518.49 186.50L518.74 188.28L518.99 190.24L519.25 192.36L519.50 194.48L519.75 196.20L520.00 196.90L520.25 196.32L520.50 194.87L520.75 193.04L521.01 191.18L521.26 189.42L521.51 187.82L521.76 186.38L522.01 185.07L522.26 183.90L522.51 182.84L522.77 181.87L523.02 180.99L523.27 180.19L523.52 179.46L523.77 178.79L524.02 178.17L524.27 177.61L524.53 177.09L524.78 176.62L525.03 176.18L525.28 175.78L525.53 175.42L525.78 175.09L526.03 174.79L526.29 174.52L526.54 174.29L526.79 174.07L527.04 173.89L527.29 173.73L527.54 173.60L527.79 173.49L528.05 173.41L528.30 173.35L528.55 173.31L528.80 173.30L529.05 173.32L529.31 173.39L529.56 173.50L529.82 173.65L530.07 173.85L530.32 174.09L530.58 174.39L530.83 174.74L531.08 175.14L531.34 175.60L531.59 176.12L531.85 176.71L532.10 177.37L532.35 178.12L532.61 178.96L532.86 179.91L533.12 180.97L533.37 182.19L533.62 183.57L533.88 185.16L534.13 187.00L534.38 189.16L534.64 191.68L534.89 194.53L535.15 197.29L535.40 198.60L535.65 197.63L535.91 195.44L536.16 193.02L536.41 190.78L536.67 188.81L536.92 187.09L537.17 185.58L537.43 184.26L537.68 183.09L537.93 182.04L538.19 181.11L538.44 180.27L538.69 179.51L538.95 178.83L539.20 178.21L539.45 177.65L539.71 177.15L539.96 176.70L540.21 176.29L540.47 175.93L540.72 175.61L540.97 175.33L541.23 175.08L541.48 174.87L541.73 174.69L541.99 174.55L542.24 174.44L542.49 174.36L542.75 174.32L543.00 174.30L543.25 174.31L543.50 174.36L543.76 174.43L544.01 174.53L544.26 174.66L544.51 174.82L544.76 175.01L545.01 175.24L545.27 175.50L545.52 175.79L545.77 176.13L546.02 176.50L546.27 176.91L546.52 177.38L546.78 177.89L547.03 178.45L547.28 179.08L547.53 179.78L547.78 180.55L548.03 181.40L548.29 182.35L548.54 183.41L548.79 184.59L549.04 185.90L549.29 187.33L549.54 188.86L549.80 190.35L550.05 191.53L550.30 192.00L550.55 191.62L550.81 190.61L551.06 189.25L551.32 187.76L551.57 186.29L551.83 184.91L552.08 183.62L552.33 182.44L552.59 181.37L552.84 180.38L553.10 179.48L553.35 178.66L553.61 177.90L553.86 177.21L554.11 176.57L554.37 175.98L554.62 175.44L554.88 174.95L555.13 174.49L555.39 174.07L555.64 173.69L555.89 173.34L556.15 173.03L556.40 172.74L556.66 172.48L556.91 172.25L557.17 172.05L557.42 171.87L557.67 171.72L557.93 171.59L558.18 171.48L558.44 171.40L558.69 171.35L558.95 171.31L559.20 171.30L559.45 171.32L559.71 171.38L559.96 171.48L560.22 171.62L560.47 171.80L560.73 172.02L560.98 172.28L561.23 172.58L561.49 172.93L561.74 173.31L562.00 173.74L562.25 174.21L562.50 174.72L562.76 175.27L563.01 175.85L563.27 176.46L563.52 177.09L563.77 177.71L564.03 178.32L564.28 178.89L564.54 179.38L564.79 179.77L565.05 180.02L565.30 180.10L565.55 179.98L565.80 179.65L566.05 179.15L566.30 178.52L566.55 177.79L566.80 177.00L567.05 176.18L567.30 175.39L567.55 174.65L567.80 174.00L568.05 173.41L568.30 172.83L568.55 172.25L568.80 171.68L569.05 171.12L569.30 170.57L569.55 170.03L569.80 169.50L570.05 168.97L570.30 168.42L570.55 167.86L570.80 167.30L571.05 166.74L571.30 166.18L571.55 165.64L571.80 165.11L572.05 164.59L572.30 164.11L572.55 163.65L572.80 163.22L573.05 162.84L573.30 162.50L573.55 162.20L573.80 161.92L574.05 161.67L574.30 161.45L574.55 161.24L574.80 161.04L575.05 160.87L575.30 160.70L575.55 160.54L575.80 160.39L576.05 160.24L576.30 160.09L576.55 159.95L576.80 159.79L577.05 159.64L577.30 159.47L577.55 159.29L577.80 159.10L578.05 158.89L578.30 158.66L578.55 158.41L578.80 158.13L579.05 157.83L579.30 157.50L579.55 157.14L579.80 156.76L580.05 156.34L580.30 155.88L580.55 155.38L580.80 154.82L581.05 154.20L581.30 153.52L581.55 152.77L581.80 151.93L582.05 151.01L582.30 150.00L584.60 135.00L585.70 120.00L586.60 105.00L587.10 90.00L587.30 70.00L587.30 30.00L587.70 30.00L587.80 70.00L588.20 90.00L588.80 105.00L589.80 120.00L591.00 135.00L592.60 148.60L592.85 149.88L593.11 151.08L593.36 152.19L593.62 153.23L593.87 154.21L594.12 155.13L594.38 156.00L594.63 156.83L594.88 157.63L595.14 158.41L595.39 159.18L595.65 159.94L595.90 160.70L596.16 161.41L596.41 162.02L596.67 162.55L596.92 163.03L597.18 163.48L597.43 163.93L597.69 164.40L597.94 164.91L598.20 165.50L598.48 166.20L598.75 166.93L599.02 167.69L599.30 168.47L599.58 169.28L599.85 170.11L600.12 170.95L600.40 171.80L600.65 172.63L600.90 173.54L601.15 174.48L601.40 175.40L601.65 176.26L601.90 177.00L602.16 177.68L602.42 178.31L602.69 178.91L602.95 179.47L603.21 180.00L603.48 180.49L603.74 180.96L604.00 181.40L604.25 181.76L604.50 182.04L604.75 182.27L605.00 182.47L605.25 182.67L605.50 182.90" stroke="#ff0000" stroke-width="1.2"/>
</g>
<rect x="48.60" y="36.80" width="258.80" height="190.50" fill="none" stroke="#2a2a2a" stroke-width="1.1"/>
<path d="M48.60 227.30v-3.50M48.60 36.80v3.50M67.09 227.30v-2.20M67.09 36.80v2.20M85.57 227.30v-3.50M85.57 36.80v3.50M104.06 227.30v-2.20M104.06 36.80v2.20M122.54 227.30v-3.50M122.54 36.80v3.50M141.03 227.30v-2.20M141.03 36.80v2.20M159.51 227.30v-3.50M159.51 36.80v3.50M178.00 227.30v-2.20M178.00 36.80v2.20M196.49 227.30v-3.50M196.49 36.80v3.50M214.97 227.30v-2.20M214.97 36.80v2.20M233.46 227.30v-3.50M233.46 36.80v3.50M251.94 227.30v-2.20M251.94 36.80v2.20M270.43 227.30v-3.50M270.43 36.80v3.50M288.91 227.30v-2.20M288.91 36.80v2.20M307.40 227.30v-3.50M307.40 36.80v3.50M48.60 227.30h3.5M307.40 227.30h-3.5M48.60 219.11h2M307.40 219.11h-2M48.60 214.32h2M307.40 214.32h-2M48.60 210.92h2M307.40 210.92h-2M48.60 208.28h2M307.40 208.28h-2M48.60 206.12h2M307.40 206.12h-2M48.60 204.30h2M307.40 204.30h-2M48.60 202.72h2M307.40 202.72h-2M48.60 201.33h2M307.40 201.33h-2M48.60 200.09h3.5M307.40 200.09h-3.5M48.60 191.89h2M307.40 191.89h-2M48.60 187.10h2M307.40 187.10h-2M48.60 183.70h2M307.40 183.70h-2M48.60 181.06h2M307.40 181.06h-2M48.60 178.91h2M307.40 178.91h-2M48.60 177.09h2M307.40 177.09h-2M48.60 175.51h2M307.40 175.51h-2M48.60 174.12h2M307.40 174.12h-2M48.60 172.87h3.5M307.40 172.87h-3.5M48.60 164.68h2M307.40 164.68h-2M48.60 159.89h2M307.40 159.89h-2M48.60 156.49h2M307.40 156.49h-2M48.60 153.85h2M307.40 153.85h-2M48.60 151.69h2M307.40 151.69h-2M48.60 149.87h2M307.40 149.87h-2M48.60 148.29h2M307.40 148.29h-2M48.60 146.90h2M307.40 146.90h-2M48.60 145.66h3.5M307.40 145.66h-3.5M48.60 137.46h2M307.40 137.46h-2M48.60 132.67h2M307.40 132.67h-2M48.60 129.27h2M307.40 129.27h-2M48.60 126.64h2M307.40 126.64h-2M48.60 124.48h2M307.40 124.48h-2M48.60 122.66h2M307.40 122.66h-2M48.60 121.08h2M307.40 121.08h-2M48.60 119.69h2M307.40 119.69h-2M48.60 118.44h3.5M307.40 118.44h-3.5M48.60 110.25h2M307.40 110.25h-2M48.60 105.46h2M307.40 105.46h-2M48.60 102.06h2M307.40 102.06h-2M48.60 99.42h2M307.40 99.42h-2M48.60 97.27h2M307.40 97.27h-2M48.60 95.44h2M307.40 95.44h-2M48.60 93.87h2M307.40 93.87h-2M48.60 92.47h2M307.40 92.47h-2M48.60 91.23h3.5M307.40 91.23h-3.5M48.60 83.04h2M307.40 83.04h-2M48.60 78.24h2M307.40 78.24h-2M48.60 74.84h2M307.40 74.84h-2M48.60 72.21h2M307.40 72.21h-2M48.60 70.05h2M307.40 70.05h-2M48.60 68.23h2M307.40 68.23h-2M48.60 66.65h2M307.40 66.65h-2M48.60 65.26h2M307.40 65.26h-2M48.60 64.01h3.5M307.40 64.01h-3.5M48.60 55.82h2M307.40 55.82h-2M48.60 51.03h2M307.40 51.03h-2M48.60 47.63h2M307.40 47.63h-2M48.60 44.99h2M307.40 44.99h-2M48.60 42.84h2M307.40 42.84h-2M48.60 41.02h2M307.40 41.02h-2M48.60 39.44h2M307.40 39.44h-2M48.60 38.05h2M307.40 38.05h-2M48.60 36.80h3.5M307.40 36.80h-3.5" stroke="#2a2a2a" stroke-width="1" fill="none"/>
<g style="font-family:'Liberation Sans',sans-serif;font-size:11px" fill="#222"><text x="48.60" y="240.7" text-anchor="middle">-6000</text><text x="85.57" y="240.7" text-anchor="middle">-5000</text><text x="122.54" y="240.7" text-anchor="middle">-4000</text><text x="159.51" y="240.7" text-anchor="middle">-3000</text><text x="196.49" y="240.7" text-anchor="middle">-2000</text><text x="233.46" y="240.7" text-anchor="middle">-1000</text><text x="270.43" y="240.7" text-anchor="middle">0</text><text x="307.40" y="240.7" text-anchor="middle">1000</text><text x="44.40" y="231.25" text-anchor="end">1E0</text><text x="44.40" y="203.90" text-anchor="end">1E1</text><text x="44.40" y="176.55" text-anchor="end">1E2</text><text x="44.40" y="149.20" text-anchor="end">1E3</text><text x="44.40" y="121.85" text-anchor="end">1E4</text><text x="44.40" y="94.50" text-anchor="end">1E5</text><text x="44.40" y="67.15" text-anchor="end">1E6</text><text x="44.40" y="39.80" text-anchor="end">1E7</text></g>
<rect x="365.00" y="36.80" width="259.40" height="190.50" fill="none" stroke="#2a2a2a" stroke-width="1.1"/>
<path d="M365.00 227.30v-3.50M365.00 36.80v3.50M383.53 227.30v-2.20M383.53 36.80v2.20M402.06 227.30v-3.50M402.06 36.80v3.50M420.59 227.30v-2.20M420.59 36.80v2.20M439.11 227.30v-3.50M439.11 36.80v3.50M457.64 227.30v-2.20M457.64 36.80v2.20M476.17 227.30v-3.50M476.17 36.80v3.50M494.70 227.30v-2.20M494.70 36.80v2.20M513.23 227.30v-3.50M513.23 36.80v3.50M531.76 227.30v-2.20M531.76 36.80v2.20M550.29 227.30v-3.50M550.29 36.80v3.50M568.81 227.30v-2.20M568.81 36.80v2.20M587.34 227.30v-3.50M587.34 36.80v3.50M605.87 227.30v-2.20M605.87 36.80v2.20M624.40 227.30v-3.50M624.40 36.80v3.50M365.00 227.30h3.5M624.40 227.30h-3.5M365.00 219.11h2M624.40 219.11h-2M365.00 214.32h2M624.40 214.32h-2M365.00 210.92h2M624.40 210.92h-2M365.00 208.28h2M624.40 208.28h-2M365.00 206.12h2M624.40 206.12h-2M365.00 204.30h2M624.40 204.30h-2M365.00 202.72h2M624.40 202.72h-2M365.00 201.33h2M624.40 201.33h-2M365.00 200.09h3.5M624.40 200.09h-3.5M365.00 191.89h2M624.40 191.89h-2M365.00 187.10h2M624.40 187.10h-2M365.00 183.70h2M624.40 183.70h-2M365.00 181.06h2M624.40 181.06h-2M365.00 178.91h2M624.40 178.91h-2M365.00 177.09h2M624.40 177.09h-2M365.00 175.51h2M624.40 175.51h-2M365.00 174.12h2M624.40 174.12h-2M365.00 172.87h3.5M624.40 172.87h-3.5M365.00 164.68h2M624.40 164.68h-2M365.00 159.89h2M624.40 159.89h-2M365.00 156.49h2M624.40 156.49h-2M365.00 153.85h2M624.40 153.85h-2M365.00 151.69h2M624.40 151.69h-2M365.00 149.87h2M624.40 149.87h-2M365.00 148.29h2M624.40 148.29h-2M365.00 146.90h2M624.40 146.90h-2M365.00 145.66h3.5M624.40 145.66h-3.5M365.00 137.46h2M624.40 137.46h-2M365.00 132.67h2M624.40 132.67h-2M365.00 129.27h2M624.40 129.27h-2M365.00 126.64h2M624.40 126.64h-2M365.00 124.48h2M624.40 124.48h-2M365.00 122.66h2M624.40 122.66h-2M365.00 121.08h2M624.40 121.08h-2M365.00 119.69h2M624.40 119.69h-2M365.00 118.44h3.5M624.40 118.44h-3.5M365.00 110.25h2M624.40 110.25h-2M365.00 105.46h2M624.40 105.46h-2M365.00 102.06h2M624.40 102.06h-2M365.00 99.42h2M624.40 99.42h-2M365.00 97.27h2M624.40 97.27h-2M365.00 95.44h2M624.40 95.44h-2M365.00 93.87h2M624.40 93.87h-2M365.00 92.47h2M624.40 92.47h-2M365.00 91.23h3.5M624.40 91.23h-3.5M365.00 83.04h2M624.40 83.04h-2M365.00 78.24h2M624.40 78.24h-2M365.00 74.84h2M624.40 74.84h-2M365.00 72.21h2M624.40 72.21h-2M365.00 70.05h2M624.40 70.05h-2M365.00 68.23h2M624.40 68.23h-2M365.00 66.65h2M624.40 66.65h-2M365.00 65.26h2M624.40 65.26h-2M365.00 64.01h3.5M624.40 64.01h-3.5M365.00 55.82h2M624.40 55.82h-2M365.00 51.03h2M624.40 51.03h-2M365.00 47.63h2M624.40 47.63h-2M365.00 44.99h2M624.40 44.99h-2M365.00 42.84h2M624.40 42.84h-2M365.00 41.02h2M624.40 41.02h-2M365.00 39.44h2M624.40 39.44h-2M365.00 38.05h2M624.40 38.05h-2M365.00 36.80h3.5M624.40 36.80h-3.5" stroke="#2a2a2a" stroke-width="1" fill="none"/>
<g style="font-family:'Liberation Sans',sans-serif;font-size:11px" fill="#222"><text x="365.00" y="240.7" text-anchor="middle">-6000</text><text x="402.06" y="240.7" text-anchor="middle">-5000</text><text x="439.11" y="240.7" text-anchor="middle">-4000</text><text x="476.17" y="240.7" text-anchor="middle">-3000</text><text x="513.23" y="240.7" text-anchor="middle">-2000</text><text x="550.29" y="240.7" text-anchor="middle">-1000</text><text x="587.34" y="240.7" text-anchor="middle">0</text><text x="624.40" y="240.7" text-anchor="middle">1000</text><text x="360.80" y="231.25" text-anchor="end">1E0</text><text x="360.80" y="203.90" text-anchor="end">1E1</text><text x="360.80" y="176.55" text-anchor="end">1E2</text><text x="360.80" y="149.20" text-anchor="end">1E3</text><text x="360.80" y="121.85" text-anchor="end">1E4</text><text x="360.80" y="94.50" text-anchor="end">1E5</text><text x="360.80" y="67.15" text-anchor="end">1E6</text><text x="360.80" y="39.80" text-anchor="end">1E7</text></g>
<path d="M61.1 57.1h25.2" stroke="#e2e2e2" stroke-width="1.1"/><path d="M61.1 71.1h25.2" stroke="#2020ff" stroke-width="1.1"/><path d="M61.1 87.4h25.2" stroke="#ff2020" stroke-width="1.1"/>
<g style="font-family:'Liberation Sans',sans-serif;font-size:11.2px" fill="#222">
<text x="89.3" y="61.2">Experimental</text>
<text x="89.3" y="74.6">Simulated - flat x<tspan style="font-size:7.6px" dy="3.4">Ge</tspan></text>
<text x="89.3" y="90.5">Simulated - graded x<tspan style="font-size:7.6px" dy="3.4">Ge</tspan></text>
</g>
<path d="M377.6 57.1h25.2" stroke="#e2e2e2" stroke-width="1.1"/><path d="M377.6 71.1h25.2" stroke="#2020ff" stroke-width="1.1"/><path d="M377.6 87.4h25.2" stroke="#ff2020" stroke-width="1.1"/>
<g style="font-family:'Liberation Sans',sans-serif;font-size:11.2px" fill="#222">
<text x="406.2" y="61.2">Experimental</text>
<text x="406.2" y="74.6">Simulated - flat x<tspan style="font-size:7.6px" dy="3.4">Ge</tspan></text>
<text x="406.2" y="90.5">Simulated - graded x<tspan style="font-size:7.6px" dy="3.4">Ge</tspan></text>
<text x="406.2" y="108.0">(+ x<tspan style="font-size:7.6px" dy="2.9">Ge</tspan><tspan dy="-2.9"> overshoot)</tspan></text>
</g>
<text transform="translate(11.20 187.20) rotate(-90)" style="font-family:'Liberation Sans',sans-serif;font-size:13.4px" fill="#222">Intensity (count/sec.)</text>
<g fill="#222">
<text x="134.60" y="261.6" style="font-family:'Liberation Serif',serif;font-size:13.5px">&#969;</text>
<text x="146.20" y="261.6" style="font-family:'Liberation Sans',sans-serif;font-size:13.5px">&#8211;</text>
<text x="156.20" y="261.6" style="font-family:'Liberation Serif',serif;font-size:13.5px">2&#952;</text>
<text x="174.00" y="261.6" style="font-family:'Liberation Sans',sans-serif;font-size:13px">(arcsec)</text>
</g>
<text transform="translate(327.90 187.20) rotate(-90)" style="font-family:'Liberation Sans',sans-serif;font-size:13.4px" fill="#222">Intensity (count/sec.)</text>
<g fill="#222">
<text x="451.20" y="261.6" style="font-family:'Liberation Serif',serif;font-size:13.5px">&#969;</text>
<text x="462.80" y="261.6" style="font-family:'Liberation Sans',sans-serif;font-size:13.5px">&#8211;</text>
<text x="472.80" y="261.6" style="font-family:'Liberation Serif',serif;font-size:13.5px">2&#952;</text>
<text x="490.60" y="261.6" style="font-family:'Liberation Sans',sans-serif;font-size:13px">(arcsec)</text>
</g>
<rect x="215.5" y="201.5" width="69.1" height="18.8" fill="#fff" stroke="#999" stroke-width="1.2" rx="0.8"/><text x="217.8" y="215.1" style="font-family:'Liberation Sans',sans-serif;font-size:13.2px" fill="#111">Sample B2</text>
<rect x="532.3" y="201.3" width="62.3" height="18.8" fill="#fff" stroke="#999" stroke-width="1.2" rx="0.8"/><text x="534.5" y="215.1" style="font-family:'Liberation Sans',sans-serif;font-size:13.2px" fill="#111">Sample D</text>
<text x="2.4" y="15.2" style="font-family:'Liberation Serif',serif;font-size:19.5px" fill="#111">a)</text>
<text x="325.0" y="15.2" style="font-family:'Liberation Serif',serif;font-size:19.5px" fill="#111">b)</text>
</svg>
</body></html>
